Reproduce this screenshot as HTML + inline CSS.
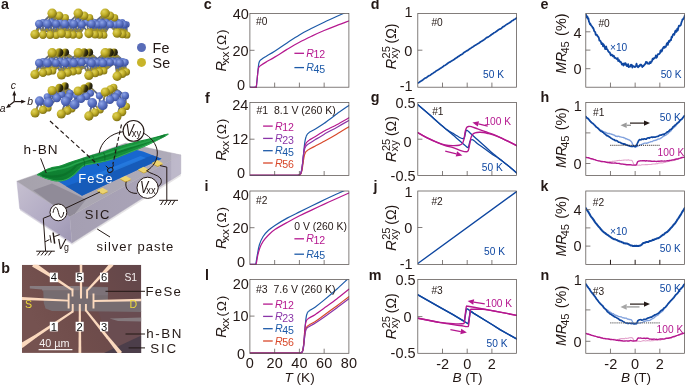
<!DOCTYPE html>
<html><head><meta charset="utf-8"><title>Figure</title>
<style>
html,body{margin:0;padding:0;background:#fff;}
body{width:685px;height:385px;overflow:hidden;font-family:"Liberation Sans",sans-serif;}
svg{display:block;font-family:"Liberation Sans",sans-serif;will-change:transform;}
</style></head><body>
<svg width="685" height="385" viewBox="0 0 685 385">
<rect width="685" height="385" fill="#ffffff"/>
<defs>
<radialGradient id="gSe" cx="0.36" cy="0.32" r="0.75"><stop offset="0" stop-color="#dfd25c"/><stop offset="0.45" stop-color="#c3b12a"/><stop offset="1" stop-color="#76680f"/></radialGradient>
<linearGradient id="gSeD" x1="0" y1="0.2" x2="1" y2="0.5"><stop offset="0" stop-color="#d2be2c"/><stop offset="0.4" stop-color="#a8981e"/><stop offset="0.68" stop-color="#3a3410"/><stop offset="1" stop-color="#14120a"/></linearGradient>
<radialGradient id="gFe" cx="0.36" cy="0.32" r="0.75"><stop offset="0" stop-color="#90a6e6"/><stop offset="0.45" stop-color="#5f77c8"/><stop offset="1" stop-color="#364a96"/></radialGradient>
<linearGradient id="gTop" x1="0" y1="0" x2="1" y2="0"><stop offset="0" stop-color="#a6a2ac"/><stop offset="1" stop-color="#b0acba"/></linearGradient>
<linearGradient id="gFront" x1="0" y1="0" x2="1" y2="0"><stop offset="0" stop-color="#a59fb2"/><stop offset="0.8" stop-color="#aaa4b8"/><stop offset="1" stop-color="#b6b1c4"/></linearGradient>
<linearGradient id="gLeft" x1="0" y1="0" x2="1" y2="1"><stop offset="0" stop-color="#c6c0d0"/><stop offset="0.55" stop-color="#b2abc4"/><stop offset="1" stop-color="#9d96b2"/></linearGradient>
<linearGradient id="gGreen" x1="0" y1="0" x2="0" y2="1"><stop offset="0" stop-color="#1c9a40"/><stop offset="0.5" stop-color="#148c38"/><stop offset="1" stop-color="#0c7a2e"/></linearGradient>
</defs>
<path d="M39.1,23.9L37.0,29.2M39.1,23.9L41.0,29.3M47.4,23.9L49.8,18.6M47.4,23.9L53.3,19.8M47.4,23.9L45.2,29.3M47.4,23.9L48.7,29.4M47.4,23.9L51.8,29.6M56.2,23.9L54.2,18.6M56.2,23.9L57.7,19.8M56.2,23.9L60.7,20.8M56.2,23.9L53.1,29.4M56.2,23.9L56.2,29.6M56.2,23.9L58.9,28.7M65.1,23.9L62.1,19.8M65.1,23.9L65.1,20.8M65.1,23.9L60.6,29.6M65.1,23.9L63.3,28.7M65.1,23.9L66.4,29.2M65.1,23.9L69.0,29.4M73.9,23.9L69.6,20.8M73.9,23.9L76.1,18.6M73.9,23.9L79.1,19.8M73.9,23.9L70.8,29.2M73.9,23.9L73.4,29.4M73.9,23.9L76.5,29.6M81.8,24.5L80.1,18.9M81.8,24.5L83.1,20.1M81.8,24.5L85.7,21.1M81.8,24.5L77.4,29.7M81.8,24.5L80.5,29.9M81.8,24.5L85.4,29.0M91.6,23.9L87.9,19.8M91.6,23.9L90.6,20.8M91.6,23.9L90.2,28.7M91.6,23.9L93.3,29.2M91.6,23.9L95.5,29.4M97.7,24.5L93.6,21.1M97.7,24.5L101.4,18.9M97.7,24.5L103.9,20.1M97.7,24.5L93.3,29.0M97.7,24.5L96.4,29.5M97.7,24.5L98.6,29.7M97.7,24.5L100.8,29.8M103.0,23.9L96.3,20.8M103.0,23.9L104.1,18.6M103.0,23.9L106.6,19.8M103.0,23.9L108.8,20.8M103.0,23.9L99.1,29.2M103.0,23.9L101.3,29.4M103.0,23.9L103.5,29.5M110.1,24.5L107.6,18.9M110.1,24.5L110.1,20.1M110.1,24.5L112.3,21.1M110.1,24.5L104.8,29.7M110.1,24.5L107.0,29.8M110.1,24.5L113.6,28.8M115.4,24.5L110.3,18.9M115.4,24.5L112.8,20.1M115.4,24.5L115.0,21.1M115.4,24.5L116.3,28.8M115.4,24.5L118.9,29.4M119.8,23.9L115.0,19.8M119.8,23.9L117.2,20.8M119.8,23.9L118.5,28.5M119.8,23.9L121.1,29.1M119.8,23.9L123.4,29.4M124.2,24.5L119.4,21.1M124.2,24.5L120.7,28.8M124.2,24.5L123.4,29.4M124.2,24.5L125.6,29.7M126.5,24.5L120.5,21.1M126.5,24.5L121.9,28.8M126.5,24.5L124.5,29.4M126.5,24.5L126.7,29.7M43.0,22.3L47.6,17.8M43.0,22.3L39.0,28.4M43.0,22.3L43.0,28.5M43.0,22.3L46.5,28.6M51.8,22.3L52.0,17.8M51.8,22.3L55.5,19.0M51.8,22.3L47.4,28.5M51.8,22.3L50.9,28.6M51.8,22.3L54.0,28.8M51.8,22.3L56.7,27.9M60.6,22.3L56.4,17.8M60.6,22.3L59.9,19.0M60.6,22.3L58.4,28.8M60.6,22.3L61.1,27.9M60.6,22.3L64.2,28.4M69.5,22.3L64.3,19.0M69.5,22.3L73.9,17.8M69.5,22.3L65.5,27.9M69.5,22.3L68.6,28.4M69.5,22.3L71.2,28.6M78.0,22.3L78.1,17.8M78.0,22.3L81.1,19.0M78.0,22.3L75.5,28.6M78.0,22.3L78.6,28.8M86.8,22.3L82.5,17.8M86.8,22.3L85.6,19.0M86.8,22.3L83.0,28.8M86.8,22.3L87.8,27.9M86.8,22.3L90.9,28.4M94.6,22.3L89.4,19.0M94.6,22.3L99.9,17.8M94.6,22.3L91.7,27.9M94.6,22.3L94.8,28.4M94.6,22.3L97.0,28.6M100.4,22.3L102.8,17.8M100.4,22.3L105.2,19.0M100.4,22.3L97.7,28.4M100.4,22.3L99.9,28.6M100.4,22.3L102.2,28.7M106.6,22.3L105.9,17.8M106.6,22.3L108.3,19.0M106.6,22.3L103.0,28.6M106.6,22.3L105.2,28.7M106.6,22.3L111.9,27.7M112.8,22.3L109.0,17.8M112.8,22.3L111.4,19.0M112.8,22.3L115.0,27.7M112.8,22.3L117.6,28.3M117.5,22.3L111.3,17.8M117.5,22.3L113.8,19.0M117.5,22.3L117.3,27.7M117.5,22.3L120.0,28.3M122.1,22.3L116.1,19.0M122.1,22.3L119.6,27.7M122.1,22.3L122.3,28.3M122.1,22.3L124.5,28.6M39.1,63.0L37.0,68.7M39.1,63.0L41.0,67.9M39.1,63.0L43.7,67.3M47.4,63.0L49.8,57.8M47.4,63.0L45.2,67.9M47.4,63.0L47.8,67.3M47.4,63.0L50.0,66.9M56.2,63.0L54.2,57.8M56.2,63.0L57.7,57.8M56.2,63.0L60.7,57.7M56.2,63.0L52.2,67.3M56.2,63.0L54.5,66.9M56.2,63.0L58.9,69.0M56.2,63.0L62.0,67.9M65.1,63.0L62.1,57.8M65.1,63.0L65.1,57.7M65.1,63.0L58.9,66.9M65.1,63.0L63.3,69.0M65.1,63.0L66.4,67.9M65.1,63.0L69.0,67.4M65.1,63.0L71.7,66.9M73.9,63.0L69.6,57.7M73.9,63.0L76.1,57.8M73.9,63.0L79.0,57.8M73.9,63.0L70.8,67.9M73.9,63.0L73.4,67.4M73.9,63.0L76.1,66.9M81.8,62.4L80.1,57.5M81.8,62.4L83.0,57.5M81.8,62.4L85.6,57.4M81.8,62.4L77.4,67.1M81.8,62.4L80.1,66.6M81.8,62.4L85.4,68.9M91.6,63.0L87.8,57.8M91.6,63.0L90.4,57.7M91.6,63.0L84.9,66.9M91.6,63.0L90.2,69.2M91.6,63.0L93.3,68.1M91.6,63.0L95.5,67.5M91.6,63.0L97.7,67.0M97.7,62.4L93.5,57.4M97.7,62.4L101.4,57.5M97.7,62.4L103.7,57.5M97.7,62.4L96.4,67.8M97.7,62.4L98.6,67.2M97.7,62.4L100.8,66.7M103.0,63.0L104.1,57.8M103.0,63.0L106.3,57.8M103.0,63.0L108.5,57.7M103.0,63.0L99.1,68.1M103.0,63.0L101.3,67.5M103.0,63.0L103.5,67.0M110.1,62.4L107.6,57.5M110.1,62.4L109.8,57.5M110.1,62.4L112.0,57.4M110.1,62.4L104.8,67.2M110.1,62.4L107.0,66.7M115.4,62.4L110.3,57.5M115.4,62.4L112.5,57.5M115.4,62.4L114.7,57.4M115.4,62.4L109.7,66.7M115.4,62.4L116.3,69.3M115.4,62.4L118.9,68.1M115.4,62.4L120.9,67.2M119.8,63.0L114.7,57.8M119.8,63.0L116.9,57.7M119.8,63.0L118.5,69.6M119.8,63.0L121.1,68.4M119.8,63.0L123.1,67.5M125.1,62.4L119.6,57.4M125.1,62.4L123.8,68.1M125.1,62.4L125.7,67.2M43.0,61.2L47.6,56.9M43.0,61.2L39.0,67.8M43.0,61.2L43.0,67.0M43.0,61.2L45.6,66.4M43.0,61.2L47.8,66.0M51.8,61.2L52.0,56.9M51.8,61.2L55.5,56.9M51.8,61.2L47.4,67.0M51.8,61.2L50.0,66.4M51.8,61.2L52.2,66.0M60.6,61.2L56.4,56.9M60.6,61.2L59.9,56.9M60.6,61.2L62.9,56.8M60.6,61.2L56.7,66.0M60.6,61.2L61.1,68.1M60.6,61.2L64.2,67.0M69.5,61.2L64.3,56.9M69.5,61.2L67.3,56.8M69.5,61.2L73.9,56.9M69.5,61.2L68.6,67.0M69.5,61.2L71.2,66.5M69.5,61.2L73.9,66.0M78.0,61.2L71.6,56.8M78.0,61.2L78.1,56.9M78.0,61.2L81.0,56.9M78.0,61.2L83.6,56.8M78.0,61.2L75.5,66.5M78.0,61.2L78.1,66.0M86.8,61.2L82.5,56.9M86.8,61.2L85.4,56.9M86.8,61.2L88.0,56.8M86.8,61.2L82.5,66.0M86.8,61.2L87.8,68.3M86.8,61.2L90.9,67.2M94.6,61.2L89.3,56.9M94.6,61.2L91.9,56.8M94.6,61.2L99.9,56.9M94.6,61.2L91.7,68.3M94.6,61.2L94.8,67.2M94.6,61.2L97.0,66.6M94.6,61.2L99.2,66.1M100.4,61.2L94.8,56.8M100.4,61.2L102.8,56.9M100.4,61.2L105.0,56.9M100.4,61.2L97.7,67.2M100.4,61.2L99.9,66.6M100.4,61.2L102.2,66.1M106.6,61.2L105.9,56.9M106.6,61.2L108.1,56.9M106.6,61.2L110.3,56.8M106.6,61.2L103.0,66.6M106.6,61.2L105.2,66.1M112.8,61.2L109.0,56.9M112.8,61.2L111.2,56.9M112.8,61.2L113.4,56.8M112.8,61.2L108.3,66.1M117.5,61.2L111.3,56.9M117.5,61.2L113.6,56.9M117.5,61.2L115.8,56.8M117.5,61.2L117.3,68.7M117.5,61.2L120.0,67.5M117.5,61.2L121.9,66.6M122.5,61.2L118.2,56.8M122.5,61.2L122.5,67.5M122.5,61.2L124.4,66.6M39.6,100.9L37.4,106.9M39.6,100.9L41.2,105.5M39.6,100.9L43.8,104.5M48.6,102.6L50.3,96.5M48.6,102.6L45.7,106.3M65.7,101.3L62.5,94.6M65.7,101.3L65.4,93.6M65.7,101.3L63.5,107.6M65.7,101.3L66.6,106.1M65.7,101.3L68.8,105.1M74.6,104.5L76.3,97.8M74.6,104.5L71.0,107.7M92.2,102.9L90.6,109.4M92.2,102.9L93.6,107.7M92.2,102.9L96.2,106.4M102.7,105.3L104.0,98.7M102.7,105.3L98.9,108.9M121.1,102.9L119.0,109.7M121.1,102.9L121.7,107.5M56.9,98.1L54.5,94.2M56.9,98.1L58.1,93.0M56.9,98.1L60.9,92.0M56.9,98.1L52.5,103.0M69.0,96.8L64.1,92.4M69.0,96.8L67.0,91.4M69.0,96.8L73.5,93.9M69.0,96.8L68.2,103.8M69.0,96.8L70.4,102.8M81.0,98.9L79.5,95.0M81.0,98.9L82.6,93.6M81.0,98.9L84.9,92.4M81.0,98.9L76.5,103.8M86.6,96.5L82.3,93.8M86.6,96.5L85.4,92.4M86.6,96.5L87.8,91.2M109.9,99.7L107.6,95.9M109.9,99.7L110.1,94.5M109.9,99.7L111.8,93.5M109.9,99.7L105.0,104.8M115.5,97.3L110.4,94.7M115.5,97.3L112.9,93.3M115.5,97.3L114.6,92.3M115.5,97.3L120.9,101.8M125.2,95.7L119.4,91.5M125.2,95.7L125.7,101.0M47.3,96.8L49.7,93.6M47.3,96.8L53.3,92.4M47.3,96.8L45.1,103.4M47.3,96.8L47.6,102.4M61.7,94.8L60.5,91.4M61.7,94.8L63.4,90.4M70.1,92.9L67.5,89.4M90.6,93.2L89.8,89.6M99.5,95.8L94.2,90.9M99.5,95.8L104.9,92.6M99.5,95.8L99.8,102.8M76.2,95.5L70.6,90.7M76.2,95.5L80.2,91.9M76.2,95.5L74.1,102.2M117.9,93.6L115.8,90.5M117.9,93.6L122.1,100.0M53.7,94.2L56.5,91.1M53.7,94.2L59.3,90.1M53.7,94.2L50.9,101.1M37.0,29.2L35.0,34.5M41.0,29.3L43.0,34.8M49.8,18.6L52.2,13.3M53.3,19.8L59.2,15.7M45.2,29.3L43.0,34.8M48.7,29.4L50.0,35.0M51.8,29.6L56.2,35.3M54.2,18.6L52.2,13.3M57.7,19.8L59.2,15.7M60.7,20.8L65.2,17.7M53.1,29.4L50.0,35.0M56.2,29.6L56.2,35.3M58.9,28.7L61.5,33.6M62.1,19.8L59.2,15.7M65.1,20.8L65.2,17.7M60.6,29.6L56.2,35.3M63.3,28.7L61.5,33.6M66.4,29.2L67.7,34.6M69.0,29.4L73.0,35.0M69.6,20.8L65.2,17.7M76.1,18.6L78.3,13.3M79.1,19.8L84.3,15.7M70.8,29.2L67.7,34.6M73.4,29.4L73.0,35.0M76.5,29.6L79.2,35.3M80.1,18.9L78.3,13.3M83.1,20.1L84.3,15.7M85.7,21.1L89.5,17.7M77.4,29.7L73.0,35.0M80.5,29.9L79.2,35.3M85.4,29.0L88.9,33.6M87.9,19.8L84.3,15.7M90.6,20.8L89.5,17.7M90.2,28.7L88.9,33.6M93.3,29.2L95.1,34.6M95.5,29.4L99.5,35.0M93.6,21.1L89.5,17.7M101.4,18.9L105.2,13.3M103.9,20.1L110.1,15.7M93.3,29.0L88.9,33.6M96.4,29.5L95.1,34.6M98.6,29.7L99.5,35.0M100.8,29.8L103.9,35.2M96.3,20.8L89.5,17.7M104.1,18.6L105.2,13.3M106.6,19.8L110.1,15.7M108.8,20.8L114.5,17.7M99.1,29.2L95.1,34.6M101.3,29.4L99.5,35.0M103.5,29.5L103.9,35.2M107.6,18.9L105.2,13.3M110.1,20.1L110.1,15.7M112.3,21.1L114.5,17.7M104.8,29.7L99.5,35.0M107.0,29.8L103.9,35.2M113.6,28.8L117.2,33.2M110.3,18.9L105.2,13.3M112.8,20.1L110.1,15.7M115.0,21.1L114.5,17.7M116.3,28.8L117.2,33.2M118.9,29.4L122.5,34.3M115.0,19.8L110.1,15.7M117.2,20.8L114.5,17.7M118.5,28.5L117.2,33.2M121.1,29.1L122.5,34.3M123.4,29.4L126.9,35.0M119.4,21.1L114.5,17.7M120.7,28.8L117.2,33.2M123.4,29.4L122.5,34.3M125.6,29.7L126.9,35.0M120.5,21.1L114.5,17.7M121.9,28.8L117.2,33.2M124.5,29.4L122.5,34.3M126.7,29.7L126.9,35.0M47.6,17.8L52.2,13.3M39.0,28.4L35.0,34.5M43.0,28.5L43.0,34.8M46.5,28.6L50.0,35.0M52.0,17.8L52.2,13.3M55.5,19.0L59.2,15.7M47.4,28.5L43.0,34.8M50.9,28.6L50.0,35.0M54.0,28.8L56.2,35.3M56.7,27.9L61.5,33.6M56.4,17.8L52.2,13.3M59.9,19.0L59.2,15.7M58.4,28.8L56.2,35.3M61.1,27.9L61.5,33.6M64.2,28.4L67.7,34.6M64.3,19.0L59.2,15.7M73.9,17.8L78.3,13.3M65.5,27.9L61.5,33.6M68.6,28.4L67.7,34.6M71.2,28.6L73.0,35.0M78.1,17.8L78.3,13.3M81.1,19.0L84.3,15.7M75.5,28.6L73.0,35.0M78.6,28.8L79.2,35.3M82.5,17.8L78.3,13.3M85.6,19.0L84.3,15.7M83.0,28.8L79.2,35.3M87.8,27.9L88.9,33.6M90.9,28.4L95.1,34.6M89.4,19.0L84.3,15.7M99.9,17.8L105.2,13.3M91.7,27.9L88.9,33.6M94.8,28.4L95.1,34.6M97.0,28.6L99.5,35.0M102.8,17.8L105.2,13.3M105.2,19.0L110.1,15.7M97.7,28.4L95.1,34.6M99.9,28.6L99.5,35.0M102.2,28.7L103.9,35.2M105.9,17.8L105.2,13.3M108.3,19.0L110.1,15.7M103.0,28.6L99.5,35.0M105.2,28.7L103.9,35.2M111.9,27.7L117.2,33.2M109.0,17.8L105.2,13.3M111.4,19.0L110.1,15.7M115.0,27.7L117.2,33.2M117.6,28.3L122.5,34.3M111.3,17.8L105.2,13.3M113.8,19.0L110.1,15.7M117.3,27.7L117.2,33.2M120.0,28.3L122.5,34.3M116.1,19.0L110.1,15.7M119.6,27.7L117.2,33.2M122.3,28.3L122.5,34.3M124.5,28.6L126.9,35.0M37.0,68.7L35.0,74.5M41.0,67.9L43.0,72.9M43.7,67.3L48.3,71.6M49.8,57.8L52.2,52.7M45.2,67.9L43.0,72.9M47.8,67.3L48.3,71.6M50.0,66.9L52.7,70.9M54.2,57.8L52.2,52.7M57.7,57.8L59.2,52.5M60.7,57.7L65.2,52.4M52.2,67.3L48.3,71.6M54.5,66.9L52.7,70.9M58.9,69.0L61.5,75.0M62.0,67.9L67.7,72.9M62.1,57.8L59.2,52.5M65.1,57.7L65.2,52.4M58.9,66.9L52.7,70.9M63.3,69.0L61.5,75.0M66.4,67.9L67.7,72.9M69.0,67.4L73.0,71.8M71.7,66.9L78.3,70.9M69.6,57.7L65.2,52.4M76.1,57.8L78.3,52.7M79.0,57.8L84.1,52.5M70.8,67.9L67.7,72.9M73.4,67.4L73.0,71.8M76.1,66.9L78.3,70.9M80.1,57.5L78.3,52.7M83.0,57.5L84.1,52.5M85.6,57.4L89.3,52.4M77.4,67.1L73.0,71.8M80.1,66.6L78.3,70.9M85.4,68.9L88.9,75.3M87.8,57.8L84.1,52.5M90.4,57.7L89.3,52.4M84.9,66.9L78.3,70.9M90.2,69.2L88.9,75.3M93.3,68.1L95.1,73.2M95.5,67.5L99.5,72.0M97.7,67.0L103.9,71.1M93.5,57.4L89.3,52.4M101.4,57.5L105.2,52.7M103.7,57.5L109.6,52.5M96.4,67.8L95.1,73.2M98.6,67.2L99.5,72.0M100.8,66.7L103.9,71.1M104.1,57.8L105.2,52.7M106.3,57.8L109.6,52.5M108.5,57.7L114.0,52.4M99.1,68.1L95.1,73.2M101.3,67.5L99.5,72.0M103.5,67.0L103.9,71.1M107.6,57.5L105.2,52.7M109.8,57.5L109.6,52.5M112.0,57.4L114.0,52.4M104.8,67.2L99.5,72.0M107.0,66.7L103.9,71.1M110.3,57.5L105.2,52.7M112.5,57.5L109.6,52.5M114.7,57.4L114.0,52.4M109.7,66.7L103.9,71.1M116.3,69.3L117.2,76.2M118.9,68.1L122.5,73.7M120.9,67.2L126.4,72.0M114.7,57.8L109.6,52.5M116.9,57.7L114.0,52.4M118.5,69.6L117.2,76.2M121.1,68.4L122.5,73.7M123.1,67.5L126.4,72.0M119.6,57.4L114.0,52.4M123.8,68.1L122.5,73.7M125.7,67.2L126.4,72.0M47.6,56.9L52.2,52.7M39.0,67.8L35.0,74.5M43.0,67.0L43.0,72.9M45.6,66.4L48.3,71.6M47.8,66.0L52.7,70.9M52.0,56.9L52.2,52.7M55.5,56.9L59.2,52.5M47.4,67.0L43.0,72.9M50.0,66.4L48.3,71.6M52.2,66.0L52.7,70.9M56.4,56.9L52.2,52.7M59.9,56.9L59.2,52.5M62.9,56.8L65.2,52.4M56.7,66.0L52.7,70.9M61.1,68.1L61.5,75.0M64.2,67.0L67.7,72.9M64.3,56.9L59.2,52.5M67.3,56.8L65.2,52.4M73.9,56.9L78.3,52.7M68.6,67.0L67.7,72.9M71.2,66.5L73.0,71.8M73.9,66.0L78.3,70.9M71.6,56.8L65.2,52.4M78.1,56.9L78.3,52.7M81.0,56.9L84.1,52.5M83.6,56.8L89.3,52.4M75.5,66.5L73.0,71.8M78.1,66.0L78.3,70.9M82.5,56.9L78.3,52.7M85.4,56.9L84.1,52.5M88.0,56.8L89.3,52.4M82.5,66.0L78.3,70.9M87.8,68.3L88.9,75.3M90.9,67.2L95.1,73.2M89.3,56.9L84.1,52.5M91.9,56.8L89.3,52.4M99.9,56.9L105.2,52.7M91.7,68.3L88.9,75.3M94.8,67.2L95.1,73.2M97.0,66.6L99.5,72.0M99.2,66.1L103.9,71.1M94.8,56.8L89.3,52.4M102.8,56.9L105.2,52.7M105.0,56.9L109.6,52.5M97.7,67.2L95.1,73.2M99.9,66.6L99.5,72.0M102.2,66.1L103.9,71.1M105.9,56.9L105.2,52.7M108.1,56.9L109.6,52.5M110.3,56.8L114.0,52.4M103.0,66.6L99.5,72.0M105.2,66.1L103.9,71.1M109.0,56.9L105.2,52.7M111.2,56.9L109.6,52.5M113.4,56.8L114.0,52.4M108.3,66.1L103.9,71.1M111.3,56.9L105.2,52.7M113.6,56.9L109.6,52.5M115.8,56.8L114.0,52.4M117.3,68.7L117.2,76.2M120.0,67.5L122.5,73.7M121.9,66.6L126.4,72.0M118.2,56.8L114.0,52.4M122.5,67.5L122.5,73.7M124.4,66.6L126.4,72.0M37.4,106.9L35.2,112.9M41.2,105.5L42.9,110.1M43.8,104.5L48.0,108.0M50.3,96.5L52.1,90.4M45.7,106.3L42.9,110.1M62.5,94.6L59.3,88.0M65.4,93.6L65.0,85.9M63.5,107.6L61.3,113.9M66.6,106.1L67.4,110.9M68.8,105.1L71.9,108.8M76.3,97.8L78.1,91.1M71.0,107.7L67.4,110.9M90.6,109.4L88.9,116.0M93.6,107.7L95.0,112.5M96.2,106.4L100.1,109.9M104.0,98.7L105.3,92.1M98.9,108.9L95.0,112.5M119.0,109.7L116.9,116.6M121.7,107.5L122.2,112.1M54.5,94.2L52.1,90.4M58.1,93.0L59.3,88.0M60.9,92.0L65.0,85.9M52.5,103.0L48.0,108.0M64.1,92.4L59.3,88.0M67.0,91.4L65.0,85.9M73.5,93.9L78.1,91.1M68.2,103.8L67.4,110.9M70.4,102.8L71.9,108.8M79.5,95.0L78.1,91.1M82.6,93.6L84.2,88.4M84.9,92.4L88.9,85.9M76.5,103.8L71.9,108.8M82.3,93.8L78.1,91.1M85.4,92.4L84.2,88.4M87.8,91.2L88.9,85.9M107.6,95.9L105.3,92.1M110.1,94.5L110.4,89.4M111.8,93.5L113.6,87.4M105.0,104.8L100.1,109.9M110.4,94.7L105.3,92.1M112.9,93.3L110.4,89.4M114.6,92.3L113.6,87.4M120.9,101.8L126.3,106.4M119.4,91.5L113.6,87.4M125.7,101.0L126.3,106.4M49.7,93.6L52.1,90.4M53.3,92.4L59.3,88.0M45.1,103.4L42.9,110.1M47.6,102.4L48.0,108.0M60.5,91.4L59.3,88.0M63.4,90.4L65.0,85.9M67.5,89.4L65.0,85.9M89.8,89.6L88.9,85.9M94.2,90.9L88.9,85.9M104.9,92.6L110.4,89.4M99.8,102.8L100.1,109.9M70.6,90.7L65.0,85.9M80.2,91.9L84.2,88.4M74.1,102.2L71.9,108.8M115.8,90.5L113.6,87.4M122.1,100.0L126.3,106.4M56.5,91.1L59.3,88.0M59.3,90.1L65.0,85.9M50.9,101.1L48.0,108.0" stroke="#101016" stroke-width="1.9" fill="none" opacity="0.6"/>
<path d="M39.1,23.9L37.0,29.2M39.1,23.9L41.0,29.3M47.4,23.9L49.8,18.6M47.4,23.9L53.3,19.8M47.4,23.9L45.2,29.3M47.4,23.9L48.7,29.4M47.4,23.9L51.8,29.6M56.2,23.9L54.2,18.6M56.2,23.9L57.7,19.8M56.2,23.9L60.7,20.8M56.2,23.9L53.1,29.4M56.2,23.9L56.2,29.6M56.2,23.9L58.9,28.7M65.1,23.9L62.1,19.8M65.1,23.9L65.1,20.8M65.1,23.9L60.6,29.6M65.1,23.9L63.3,28.7M65.1,23.9L66.4,29.2M65.1,23.9L69.0,29.4M73.9,23.9L69.6,20.8M73.9,23.9L76.1,18.6M73.9,23.9L79.1,19.8M73.9,23.9L70.8,29.2M73.9,23.9L73.4,29.4M73.9,23.9L76.5,29.6M81.8,24.5L80.1,18.9M81.8,24.5L83.1,20.1M81.8,24.5L85.7,21.1M81.8,24.5L77.4,29.7M81.8,24.5L80.5,29.9M81.8,24.5L85.4,29.0M91.6,23.9L87.9,19.8M91.6,23.9L90.6,20.8M91.6,23.9L90.2,28.7M91.6,23.9L93.3,29.2M91.6,23.9L95.5,29.4M97.7,24.5L93.6,21.1M97.7,24.5L101.4,18.9M97.7,24.5L103.9,20.1M97.7,24.5L93.3,29.0M97.7,24.5L96.4,29.5M97.7,24.5L98.6,29.7M97.7,24.5L100.8,29.8M103.0,23.9L96.3,20.8M103.0,23.9L104.1,18.6M103.0,23.9L106.6,19.8M103.0,23.9L108.8,20.8M103.0,23.9L99.1,29.2M103.0,23.9L101.3,29.4M103.0,23.9L103.5,29.5M110.1,24.5L107.6,18.9M110.1,24.5L110.1,20.1M110.1,24.5L112.3,21.1M110.1,24.5L104.8,29.7M110.1,24.5L107.0,29.8M110.1,24.5L113.6,28.8M115.4,24.5L110.3,18.9M115.4,24.5L112.8,20.1M115.4,24.5L115.0,21.1M115.4,24.5L116.3,28.8M115.4,24.5L118.9,29.4M119.8,23.9L115.0,19.8M119.8,23.9L117.2,20.8M119.8,23.9L118.5,28.5M119.8,23.9L121.1,29.1M119.8,23.9L123.4,29.4M124.2,24.5L119.4,21.1M124.2,24.5L120.7,28.8M124.2,24.5L123.4,29.4M124.2,24.5L125.6,29.7M126.5,24.5L120.5,21.1M126.5,24.5L121.9,28.8M126.5,24.5L124.5,29.4M126.5,24.5L126.7,29.7M43.0,22.3L47.6,17.8M43.0,22.3L39.0,28.4M43.0,22.3L43.0,28.5M43.0,22.3L46.5,28.6M51.8,22.3L52.0,17.8M51.8,22.3L55.5,19.0M51.8,22.3L47.4,28.5M51.8,22.3L50.9,28.6M51.8,22.3L54.0,28.8M51.8,22.3L56.7,27.9M60.6,22.3L56.4,17.8M60.6,22.3L59.9,19.0M60.6,22.3L58.4,28.8M60.6,22.3L61.1,27.9M60.6,22.3L64.2,28.4M69.5,22.3L64.3,19.0M69.5,22.3L73.9,17.8M69.5,22.3L65.5,27.9M69.5,22.3L68.6,28.4M69.5,22.3L71.2,28.6M78.0,22.3L78.1,17.8M78.0,22.3L81.1,19.0M78.0,22.3L75.5,28.6M78.0,22.3L78.6,28.8M86.8,22.3L82.5,17.8M86.8,22.3L85.6,19.0M86.8,22.3L83.0,28.8M86.8,22.3L87.8,27.9M86.8,22.3L90.9,28.4M94.6,22.3L89.4,19.0M94.6,22.3L99.9,17.8M94.6,22.3L91.7,27.9M94.6,22.3L94.8,28.4M94.6,22.3L97.0,28.6M100.4,22.3L102.8,17.8M100.4,22.3L105.2,19.0M100.4,22.3L97.7,28.4M100.4,22.3L99.9,28.6M100.4,22.3L102.2,28.7M106.6,22.3L105.9,17.8M106.6,22.3L108.3,19.0M106.6,22.3L103.0,28.6M106.6,22.3L105.2,28.7M106.6,22.3L111.9,27.7M112.8,22.3L109.0,17.8M112.8,22.3L111.4,19.0M112.8,22.3L115.0,27.7M112.8,22.3L117.6,28.3M117.5,22.3L111.3,17.8M117.5,22.3L113.8,19.0M117.5,22.3L117.3,27.7M117.5,22.3L120.0,28.3M122.1,22.3L116.1,19.0M122.1,22.3L119.6,27.7M122.1,22.3L122.3,28.3M122.1,22.3L124.5,28.6M39.1,63.0L37.0,68.7M39.1,63.0L41.0,67.9M39.1,63.0L43.7,67.3M47.4,63.0L49.8,57.8M47.4,63.0L45.2,67.9M47.4,63.0L47.8,67.3M47.4,63.0L50.0,66.9M56.2,63.0L54.2,57.8M56.2,63.0L57.7,57.8M56.2,63.0L60.7,57.7M56.2,63.0L52.2,67.3M56.2,63.0L54.5,66.9M56.2,63.0L58.9,69.0M56.2,63.0L62.0,67.9M65.1,63.0L62.1,57.8M65.1,63.0L65.1,57.7M65.1,63.0L58.9,66.9M65.1,63.0L63.3,69.0M65.1,63.0L66.4,67.9M65.1,63.0L69.0,67.4M65.1,63.0L71.7,66.9M73.9,63.0L69.6,57.7M73.9,63.0L76.1,57.8M73.9,63.0L79.0,57.8M73.9,63.0L70.8,67.9M73.9,63.0L73.4,67.4M73.9,63.0L76.1,66.9M81.8,62.4L80.1,57.5M81.8,62.4L83.0,57.5M81.8,62.4L85.6,57.4M81.8,62.4L77.4,67.1M81.8,62.4L80.1,66.6M81.8,62.4L85.4,68.9M91.6,63.0L87.8,57.8M91.6,63.0L90.4,57.7M91.6,63.0L84.9,66.9M91.6,63.0L90.2,69.2M91.6,63.0L93.3,68.1M91.6,63.0L95.5,67.5M91.6,63.0L97.7,67.0M97.7,62.4L93.5,57.4M97.7,62.4L101.4,57.5M97.7,62.4L103.7,57.5M97.7,62.4L96.4,67.8M97.7,62.4L98.6,67.2M97.7,62.4L100.8,66.7M103.0,63.0L104.1,57.8M103.0,63.0L106.3,57.8M103.0,63.0L108.5,57.7M103.0,63.0L99.1,68.1M103.0,63.0L101.3,67.5M103.0,63.0L103.5,67.0M110.1,62.4L107.6,57.5M110.1,62.4L109.8,57.5M110.1,62.4L112.0,57.4M110.1,62.4L104.8,67.2M110.1,62.4L107.0,66.7M115.4,62.4L110.3,57.5M115.4,62.4L112.5,57.5M115.4,62.4L114.7,57.4M115.4,62.4L109.7,66.7M115.4,62.4L116.3,69.3M115.4,62.4L118.9,68.1M115.4,62.4L120.9,67.2M119.8,63.0L114.7,57.8M119.8,63.0L116.9,57.7M119.8,63.0L118.5,69.6M119.8,63.0L121.1,68.4M119.8,63.0L123.1,67.5M125.1,62.4L119.6,57.4M125.1,62.4L123.8,68.1M125.1,62.4L125.7,67.2M43.0,61.2L47.6,56.9M43.0,61.2L39.0,67.8M43.0,61.2L43.0,67.0M43.0,61.2L45.6,66.4M43.0,61.2L47.8,66.0M51.8,61.2L52.0,56.9M51.8,61.2L55.5,56.9M51.8,61.2L47.4,67.0M51.8,61.2L50.0,66.4M51.8,61.2L52.2,66.0M60.6,61.2L56.4,56.9M60.6,61.2L59.9,56.9M60.6,61.2L62.9,56.8M60.6,61.2L56.7,66.0M60.6,61.2L61.1,68.1M60.6,61.2L64.2,67.0M69.5,61.2L64.3,56.9M69.5,61.2L67.3,56.8M69.5,61.2L73.9,56.9M69.5,61.2L68.6,67.0M69.5,61.2L71.2,66.5M69.5,61.2L73.9,66.0M78.0,61.2L71.6,56.8M78.0,61.2L78.1,56.9M78.0,61.2L81.0,56.9M78.0,61.2L83.6,56.8M78.0,61.2L75.5,66.5M78.0,61.2L78.1,66.0M86.8,61.2L82.5,56.9M86.8,61.2L85.4,56.9M86.8,61.2L88.0,56.8M86.8,61.2L82.5,66.0M86.8,61.2L87.8,68.3M86.8,61.2L90.9,67.2M94.6,61.2L89.3,56.9M94.6,61.2L91.9,56.8M94.6,61.2L99.9,56.9M94.6,61.2L91.7,68.3M94.6,61.2L94.8,67.2M94.6,61.2L97.0,66.6M94.6,61.2L99.2,66.1M100.4,61.2L94.8,56.8M100.4,61.2L102.8,56.9M100.4,61.2L105.0,56.9M100.4,61.2L97.7,67.2M100.4,61.2L99.9,66.6M100.4,61.2L102.2,66.1M106.6,61.2L105.9,56.9M106.6,61.2L108.1,56.9M106.6,61.2L110.3,56.8M106.6,61.2L103.0,66.6M106.6,61.2L105.2,66.1M112.8,61.2L109.0,56.9M112.8,61.2L111.2,56.9M112.8,61.2L113.4,56.8M112.8,61.2L108.3,66.1M117.5,61.2L111.3,56.9M117.5,61.2L113.6,56.9M117.5,61.2L115.8,56.8M117.5,61.2L117.3,68.7M117.5,61.2L120.0,67.5M117.5,61.2L121.9,66.6M122.5,61.2L118.2,56.8M122.5,61.2L122.5,67.5M122.5,61.2L124.4,66.6M39.6,100.9L37.4,106.9M39.6,100.9L41.2,105.5M39.6,100.9L43.8,104.5M48.6,102.6L50.3,96.5M48.6,102.6L45.7,106.3M65.7,101.3L62.5,94.6M65.7,101.3L65.4,93.6M65.7,101.3L63.5,107.6M65.7,101.3L66.6,106.1M65.7,101.3L68.8,105.1M74.6,104.5L76.3,97.8M74.6,104.5L71.0,107.7M92.2,102.9L90.6,109.4M92.2,102.9L93.6,107.7M92.2,102.9L96.2,106.4M102.7,105.3L104.0,98.7M102.7,105.3L98.9,108.9M121.1,102.9L119.0,109.7M121.1,102.9L121.7,107.5M56.9,98.1L54.5,94.2M56.9,98.1L58.1,93.0M56.9,98.1L60.9,92.0M56.9,98.1L52.5,103.0M69.0,96.8L64.1,92.4M69.0,96.8L67.0,91.4M69.0,96.8L73.5,93.9M69.0,96.8L68.2,103.8M69.0,96.8L70.4,102.8M81.0,98.9L79.5,95.0M81.0,98.9L82.6,93.6M81.0,98.9L84.9,92.4M81.0,98.9L76.5,103.8M86.6,96.5L82.3,93.8M86.6,96.5L85.4,92.4M86.6,96.5L87.8,91.2M109.9,99.7L107.6,95.9M109.9,99.7L110.1,94.5M109.9,99.7L111.8,93.5M109.9,99.7L105.0,104.8M115.5,97.3L110.4,94.7M115.5,97.3L112.9,93.3M115.5,97.3L114.6,92.3M115.5,97.3L120.9,101.8M125.2,95.7L119.4,91.5M125.2,95.7L125.7,101.0M47.3,96.8L49.7,93.6M47.3,96.8L53.3,92.4M47.3,96.8L45.1,103.4M47.3,96.8L47.6,102.4M61.7,94.8L60.5,91.4M61.7,94.8L63.4,90.4M70.1,92.9L67.5,89.4M90.6,93.2L89.8,89.6M99.5,95.8L94.2,90.9M99.5,95.8L104.9,92.6M99.5,95.8L99.8,102.8M76.2,95.5L70.6,90.7M76.2,95.5L80.2,91.9M76.2,95.5L74.1,102.2M117.9,93.6L115.8,90.5M117.9,93.6L122.1,100.0M53.7,94.2L56.5,91.1M53.7,94.2L59.3,90.1M53.7,94.2L50.9,101.1" stroke="#3f5fb4" stroke-width="0.9" fill="none"/>
<path d="M37.0,29.2L35.0,34.5M41.0,29.3L43.0,34.8M49.8,18.6L52.2,13.3M53.3,19.8L59.2,15.7M45.2,29.3L43.0,34.8M48.7,29.4L50.0,35.0M51.8,29.6L56.2,35.3M54.2,18.6L52.2,13.3M57.7,19.8L59.2,15.7M60.7,20.8L65.2,17.7M53.1,29.4L50.0,35.0M56.2,29.6L56.2,35.3M58.9,28.7L61.5,33.6M62.1,19.8L59.2,15.7M65.1,20.8L65.2,17.7M60.6,29.6L56.2,35.3M63.3,28.7L61.5,33.6M66.4,29.2L67.7,34.6M69.0,29.4L73.0,35.0M69.6,20.8L65.2,17.7M76.1,18.6L78.3,13.3M79.1,19.8L84.3,15.7M70.8,29.2L67.7,34.6M73.4,29.4L73.0,35.0M76.5,29.6L79.2,35.3M80.1,18.9L78.3,13.3M83.1,20.1L84.3,15.7M85.7,21.1L89.5,17.7M77.4,29.7L73.0,35.0M80.5,29.9L79.2,35.3M85.4,29.0L88.9,33.6M87.9,19.8L84.3,15.7M90.6,20.8L89.5,17.7M90.2,28.7L88.9,33.6M93.3,29.2L95.1,34.6M95.5,29.4L99.5,35.0M93.6,21.1L89.5,17.7M101.4,18.9L105.2,13.3M103.9,20.1L110.1,15.7M93.3,29.0L88.9,33.6M96.4,29.5L95.1,34.6M98.6,29.7L99.5,35.0M100.8,29.8L103.9,35.2M96.3,20.8L89.5,17.7M104.1,18.6L105.2,13.3M106.6,19.8L110.1,15.7M108.8,20.8L114.5,17.7M99.1,29.2L95.1,34.6M101.3,29.4L99.5,35.0M103.5,29.5L103.9,35.2M107.6,18.9L105.2,13.3M110.1,20.1L110.1,15.7M112.3,21.1L114.5,17.7M104.8,29.7L99.5,35.0M107.0,29.8L103.9,35.2M113.6,28.8L117.2,33.2M110.3,18.9L105.2,13.3M112.8,20.1L110.1,15.7M115.0,21.1L114.5,17.7M116.3,28.8L117.2,33.2M118.9,29.4L122.5,34.3M115.0,19.8L110.1,15.7M117.2,20.8L114.5,17.7M118.5,28.5L117.2,33.2M121.1,29.1L122.5,34.3M123.4,29.4L126.9,35.0M119.4,21.1L114.5,17.7M120.7,28.8L117.2,33.2M123.4,29.4L122.5,34.3M125.6,29.7L126.9,35.0M120.5,21.1L114.5,17.7M121.9,28.8L117.2,33.2M124.5,29.4L122.5,34.3M126.7,29.7L126.9,35.0M47.6,17.8L52.2,13.3M39.0,28.4L35.0,34.5M43.0,28.5L43.0,34.8M46.5,28.6L50.0,35.0M52.0,17.8L52.2,13.3M55.5,19.0L59.2,15.7M47.4,28.5L43.0,34.8M50.9,28.6L50.0,35.0M54.0,28.8L56.2,35.3M56.7,27.9L61.5,33.6M56.4,17.8L52.2,13.3M59.9,19.0L59.2,15.7M58.4,28.8L56.2,35.3M61.1,27.9L61.5,33.6M64.2,28.4L67.7,34.6M64.3,19.0L59.2,15.7M73.9,17.8L78.3,13.3M65.5,27.9L61.5,33.6M68.6,28.4L67.7,34.6M71.2,28.6L73.0,35.0M78.1,17.8L78.3,13.3M81.1,19.0L84.3,15.7M75.5,28.6L73.0,35.0M78.6,28.8L79.2,35.3M82.5,17.8L78.3,13.3M85.6,19.0L84.3,15.7M83.0,28.8L79.2,35.3M87.8,27.9L88.9,33.6M90.9,28.4L95.1,34.6M89.4,19.0L84.3,15.7M99.9,17.8L105.2,13.3M91.7,27.9L88.9,33.6M94.8,28.4L95.1,34.6M97.0,28.6L99.5,35.0M102.8,17.8L105.2,13.3M105.2,19.0L110.1,15.7M97.7,28.4L95.1,34.6M99.9,28.6L99.5,35.0M102.2,28.7L103.9,35.2M105.9,17.8L105.2,13.3M108.3,19.0L110.1,15.7M103.0,28.6L99.5,35.0M105.2,28.7L103.9,35.2M111.9,27.7L117.2,33.2M109.0,17.8L105.2,13.3M111.4,19.0L110.1,15.7M115.0,27.7L117.2,33.2M117.6,28.3L122.5,34.3M111.3,17.8L105.2,13.3M113.8,19.0L110.1,15.7M117.3,27.7L117.2,33.2M120.0,28.3L122.5,34.3M116.1,19.0L110.1,15.7M119.6,27.7L117.2,33.2M122.3,28.3L122.5,34.3M124.5,28.6L126.9,35.0M37.0,68.7L35.0,74.5M41.0,67.9L43.0,72.9M43.7,67.3L48.3,71.6M49.8,57.8L52.2,52.7M45.2,67.9L43.0,72.9M47.8,67.3L48.3,71.6M50.0,66.9L52.7,70.9M54.2,57.8L52.2,52.7M57.7,57.8L59.2,52.5M60.7,57.7L65.2,52.4M52.2,67.3L48.3,71.6M54.5,66.9L52.7,70.9M58.9,69.0L61.5,75.0M62.0,67.9L67.7,72.9M62.1,57.8L59.2,52.5M65.1,57.7L65.2,52.4M58.9,66.9L52.7,70.9M63.3,69.0L61.5,75.0M66.4,67.9L67.7,72.9M69.0,67.4L73.0,71.8M71.7,66.9L78.3,70.9M69.6,57.7L65.2,52.4M76.1,57.8L78.3,52.7M79.0,57.8L84.1,52.5M70.8,67.9L67.7,72.9M73.4,67.4L73.0,71.8M76.1,66.9L78.3,70.9M80.1,57.5L78.3,52.7M83.0,57.5L84.1,52.5M85.6,57.4L89.3,52.4M77.4,67.1L73.0,71.8M80.1,66.6L78.3,70.9M85.4,68.9L88.9,75.3M87.8,57.8L84.1,52.5M90.4,57.7L89.3,52.4M84.9,66.9L78.3,70.9M90.2,69.2L88.9,75.3M93.3,68.1L95.1,73.2M95.5,67.5L99.5,72.0M97.7,67.0L103.9,71.1M93.5,57.4L89.3,52.4M101.4,57.5L105.2,52.7M103.7,57.5L109.6,52.5M96.4,67.8L95.1,73.2M98.6,67.2L99.5,72.0M100.8,66.7L103.9,71.1M104.1,57.8L105.2,52.7M106.3,57.8L109.6,52.5M108.5,57.7L114.0,52.4M99.1,68.1L95.1,73.2M101.3,67.5L99.5,72.0M103.5,67.0L103.9,71.1M107.6,57.5L105.2,52.7M109.8,57.5L109.6,52.5M112.0,57.4L114.0,52.4M104.8,67.2L99.5,72.0M107.0,66.7L103.9,71.1M110.3,57.5L105.2,52.7M112.5,57.5L109.6,52.5M114.7,57.4L114.0,52.4M109.7,66.7L103.9,71.1M116.3,69.3L117.2,76.2M118.9,68.1L122.5,73.7M120.9,67.2L126.4,72.0M114.7,57.8L109.6,52.5M116.9,57.7L114.0,52.4M118.5,69.6L117.2,76.2M121.1,68.4L122.5,73.7M123.1,67.5L126.4,72.0M119.6,57.4L114.0,52.4M123.8,68.1L122.5,73.7M125.7,67.2L126.4,72.0M47.6,56.9L52.2,52.7M39.0,67.8L35.0,74.5M43.0,67.0L43.0,72.9M45.6,66.4L48.3,71.6M47.8,66.0L52.7,70.9M52.0,56.9L52.2,52.7M55.5,56.9L59.2,52.5M47.4,67.0L43.0,72.9M50.0,66.4L48.3,71.6M52.2,66.0L52.7,70.9M56.4,56.9L52.2,52.7M59.9,56.9L59.2,52.5M62.9,56.8L65.2,52.4M56.7,66.0L52.7,70.9M61.1,68.1L61.5,75.0M64.2,67.0L67.7,72.9M64.3,56.9L59.2,52.5M67.3,56.8L65.2,52.4M73.9,56.9L78.3,52.7M68.6,67.0L67.7,72.9M71.2,66.5L73.0,71.8M73.9,66.0L78.3,70.9M71.6,56.8L65.2,52.4M78.1,56.9L78.3,52.7M81.0,56.9L84.1,52.5M83.6,56.8L89.3,52.4M75.5,66.5L73.0,71.8M78.1,66.0L78.3,70.9M82.5,56.9L78.3,52.7M85.4,56.9L84.1,52.5M88.0,56.8L89.3,52.4M82.5,66.0L78.3,70.9M87.8,68.3L88.9,75.3M90.9,67.2L95.1,73.2M89.3,56.9L84.1,52.5M91.9,56.8L89.3,52.4M99.9,56.9L105.2,52.7M91.7,68.3L88.9,75.3M94.8,67.2L95.1,73.2M97.0,66.6L99.5,72.0M99.2,66.1L103.9,71.1M94.8,56.8L89.3,52.4M102.8,56.9L105.2,52.7M105.0,56.9L109.6,52.5M97.7,67.2L95.1,73.2M99.9,66.6L99.5,72.0M102.2,66.1L103.9,71.1M105.9,56.9L105.2,52.7M108.1,56.9L109.6,52.5M110.3,56.8L114.0,52.4M103.0,66.6L99.5,72.0M105.2,66.1L103.9,71.1M109.0,56.9L105.2,52.7M111.2,56.9L109.6,52.5M113.4,56.8L114.0,52.4M108.3,66.1L103.9,71.1M111.3,56.9L105.2,52.7M113.6,56.9L109.6,52.5M115.8,56.8L114.0,52.4M117.3,68.7L117.2,76.2M120.0,67.5L122.5,73.7M121.9,66.6L126.4,72.0M118.2,56.8L114.0,52.4M122.5,67.5L122.5,73.7M124.4,66.6L126.4,72.0M37.4,106.9L35.2,112.9M41.2,105.5L42.9,110.1M43.8,104.5L48.0,108.0M50.3,96.5L52.1,90.4M45.7,106.3L42.9,110.1M62.5,94.6L59.3,88.0M65.4,93.6L65.0,85.9M63.5,107.6L61.3,113.9M66.6,106.1L67.4,110.9M68.8,105.1L71.9,108.8M76.3,97.8L78.1,91.1M71.0,107.7L67.4,110.9M90.6,109.4L88.9,116.0M93.6,107.7L95.0,112.5M96.2,106.4L100.1,109.9M104.0,98.7L105.3,92.1M98.9,108.9L95.0,112.5M119.0,109.7L116.9,116.6M121.7,107.5L122.2,112.1M54.5,94.2L52.1,90.4M58.1,93.0L59.3,88.0M60.9,92.0L65.0,85.9M52.5,103.0L48.0,108.0M64.1,92.4L59.3,88.0M67.0,91.4L65.0,85.9M73.5,93.9L78.1,91.1M68.2,103.8L67.4,110.9M70.4,102.8L71.9,108.8M79.5,95.0L78.1,91.1M82.6,93.6L84.2,88.4M84.9,92.4L88.9,85.9M76.5,103.8L71.9,108.8M82.3,93.8L78.1,91.1M85.4,92.4L84.2,88.4M87.8,91.2L88.9,85.9M107.6,95.9L105.3,92.1M110.1,94.5L110.4,89.4M111.8,93.5L113.6,87.4M105.0,104.8L100.1,109.9M110.4,94.7L105.3,92.1M112.9,93.3L110.4,89.4M114.6,92.3L113.6,87.4M120.9,101.8L126.3,106.4M119.4,91.5L113.6,87.4M125.7,101.0L126.3,106.4M49.7,93.6L52.1,90.4M53.3,92.4L59.3,88.0M45.1,103.4L42.9,110.1M47.6,102.4L48.0,108.0M60.5,91.4L59.3,88.0M63.4,90.4L65.0,85.9M67.5,89.4L65.0,85.9M89.8,89.6L88.9,85.9M94.2,90.9L88.9,85.9M104.9,92.6L110.4,89.4M99.8,102.8L100.1,109.9M70.6,90.7L65.0,85.9M80.2,91.9L84.2,88.4M74.1,102.2L71.9,108.8M115.8,90.5L113.6,87.4M122.1,100.0L126.3,106.4M56.5,91.1L59.3,88.0M59.3,90.1L65.0,85.9M50.9,101.1L48.0,108.0" stroke="#a8961e" stroke-width="0.9" fill="none"/>
<circle cx="126.54" cy="24.45" r="3.18" fill="url(#gFe)"/>
<circle cx="42.97" cy="22.25" r="3.18" fill="url(#gFe)"/>
<circle cx="51.8" cy="22.25" r="3.18" fill="url(#gFe)"/>
<circle cx="60.64" cy="22.25" r="3.18" fill="url(#gFe)"/>
<circle cx="69.47" cy="22.25" r="3.18" fill="url(#gFe)"/>
<circle cx="77.95" cy="22.25" r="3.18" fill="url(#gFe)"/>
<circle cx="86.78" cy="22.25" r="3.18" fill="url(#gFe)"/>
<circle cx="94.56" cy="22.25" r="3.18" fill="url(#gFe)"/>
<circle cx="100.39" cy="22.25" r="3.18" fill="url(#gFe)"/>
<circle cx="106.57" cy="22.25" r="3.18" fill="url(#gFe)"/>
<circle cx="112.76" cy="22.25" r="3.18" fill="url(#gFe)"/>
<circle cx="117.53" cy="22.25" r="3.18" fill="url(#gFe)"/>
<circle cx="122.12" cy="22.25" r="3.18" fill="url(#gFe)"/>
<circle cx="42.97" cy="61.17" r="3.18" fill="url(#gFe)"/>
<circle cx="51.8" cy="61.17" r="3.18" fill="url(#gFe)"/>
<circle cx="60.64" cy="61.17" r="3.18" fill="url(#gFe)"/>
<circle cx="69.47" cy="61.17" r="3.18" fill="url(#gFe)"/>
<circle cx="77.95" cy="61.17" r="3.18" fill="url(#gFe)"/>
<circle cx="86.78" cy="61.17" r="3.18" fill="url(#gFe)"/>
<circle cx="94.56" cy="61.17" r="3.18" fill="url(#gFe)"/>
<circle cx="100.39" cy="61.17" r="3.18" fill="url(#gFe)"/>
<circle cx="106.57" cy="61.17" r="3.18" fill="url(#gFe)"/>
<circle cx="112.76" cy="61.17" r="3.18" fill="url(#gFe)"/>
<circle cx="117.53" cy="61.17" r="3.18" fill="url(#gFe)"/>
<circle cx="122.47" cy="61.17" r="3.18" fill="url(#gFe)"/>
<circle cx="53.69" cy="94.2" r="3.18" fill="url(#gFe)"/>
<circle cx="70.07" cy="92.92" r="3.29" fill="url(#gFe)"/>
<circle cx="97.74" cy="24.45" r="3.39" fill="url(#gFe)"/>
<circle cx="115.41" cy="24.45" r="3.39" fill="url(#gFe)"/>
<circle cx="97.74" cy="62.37" r="3.39" fill="url(#gFe)"/>
<circle cx="115.41" cy="62.37" r="3.39" fill="url(#gFe)"/>
<circle cx="90.63" cy="93.24" r="3.39" fill="url(#gFe)"/>
<circle cx="76.18" cy="95.49" r="3.39" fill="url(#gFe)"/>
<circle cx="117.93" cy="93.56" r="3.39" fill="url(#gFe)"/>
<circle cx="103.92" cy="35.16" r="3.5" fill="url(#gSe)"/>
<circle cx="78.3" cy="70.92" r="3.5" fill="url(#gSe)"/>
<circle cx="103.92" cy="71.1" r="3.5" fill="url(#gSe)"/>
<circle cx="61.72" cy="94.85" r="3.5" fill="url(#gFe)"/>
<circle cx="124.24" cy="24.45" r="3.6" fill="url(#gFe)"/>
<circle cx="79.19" cy="35.34" r="3.6" fill="url(#gSe)"/>
<circle cx="126.89" cy="34.98" r="3.6" fill="url(#gSe)"/>
<circle cx="125.12" cy="62.37" r="3.6" fill="url(#gFe)"/>
<circle cx="52.69" cy="70.92" r="3.6" fill="url(#gSe)"/>
<circle cx="47.27" cy="96.77" r="3.6" fill="url(#gFe)"/>
<circle cx="99.46" cy="95.81" r="3.6" fill="url(#gFe)"/>
<circle cx="48.03" cy="108.01" r="3.6" fill="url(#gSe)"/>
<circle cx="71.94" cy="108.83" r="3.6" fill="url(#gSe)"/>
<circle cx="65.23" cy="17.67" r="3.71" fill="url(#gSe)"/>
<circle cx="89.55" cy="17.67" r="3.71" fill="url(#gSe)"/>
<circle cx="114.52" cy="17.67" r="3.71" fill="url(#gSe)"/>
<circle cx="81.84" cy="24.45" r="3.71" fill="url(#gFe)"/>
<circle cx="110.11" cy="24.45" r="3.71" fill="url(#gFe)"/>
<circle cx="56.22" cy="35.34" r="3.71" fill="url(#gSe)"/>
<circle cx="73" cy="34.98" r="3.71" fill="url(#gSe)"/>
<circle cx="99.51" cy="34.98" r="3.71" fill="url(#gSe)"/>
<circle cx="81.84" cy="62.37" r="3.71" fill="url(#gFe)"/>
<circle cx="110.11" cy="62.37" r="3.71" fill="url(#gFe)"/>
<circle cx="73" cy="71.8" r="3.71" fill="url(#gSe)"/>
<circle cx="99.51" cy="71.98" r="3.71" fill="url(#gSe)"/>
<circle cx="126.36" cy="71.98" r="3.71" fill="url(#gSe)"/>
<circle cx="64.99" cy="85.94" r="3.71" fill="url(#gSeD)"/>
<circle cx="88.9" cy="85.94" r="3.71" fill="url(#gSeD)"/>
<circle cx="113.63" cy="87.37" r="3.71" fill="url(#gSe)"/>
<circle cx="100.14" cy="109.85" r="3.71" fill="url(#gSe)"/>
<circle cx="126.3" cy="106.38" r="3.71" fill="url(#gSe)"/>
<circle cx="56.22" cy="23.85" r="3.82" fill="url(#gFe)"/>
<circle cx="67.7" cy="34.63" r="3.82" fill="url(#gSe)"/>
<circle cx="95.09" cy="34.63" r="3.82" fill="url(#gSe)"/>
<circle cx="65.23" cy="52.37" r="3.82" fill="url(#gSeD)"/>
<circle cx="89.29" cy="52.37" r="3.82" fill="url(#gSeD)"/>
<circle cx="113.99" cy="52.37" r="3.82" fill="url(#gSeD)"/>
<circle cx="56.22" cy="62.97" r="3.82" fill="url(#gFe)"/>
<circle cx="48.27" cy="71.63" r="3.82" fill="url(#gSe)"/>
<circle cx="86.62" cy="96.45" r="3.82" fill="url(#gFe)"/>
<circle cx="119.82" cy="23.85" r="3.92" fill="url(#gFe)"/>
<circle cx="50.04" cy="34.98" r="3.92" fill="url(#gSe)"/>
<circle cx="119.82" cy="62.97" r="3.92" fill="url(#gFe)"/>
<circle cx="68.95" cy="96.77" r="3.92" fill="url(#gFe)"/>
<circle cx="115.52" cy="97.26" r="3.92" fill="url(#gFe)"/>
<circle cx="125.16" cy="95.65" r="3.92" fill="url(#gFe)"/>
<circle cx="122.47" cy="34.28" r="4.03" fill="url(#gSe)"/>
<circle cx="67.7" cy="72.86" r="4.03" fill="url(#gSe)"/>
<circle cx="95.09" cy="73.22" r="4.03" fill="url(#gSe)"/>
<circle cx="42.92" cy="110.06" r="4.03" fill="url(#gSe)"/>
<circle cx="67.44" cy="110.87" r="4.03" fill="url(#gSe)"/>
<circle cx="59.22" cy="15.72" r="4.13" fill="url(#gSe)"/>
<circle cx="84.33" cy="15.72" r="4.13" fill="url(#gSe)"/>
<circle cx="110.11" cy="15.72" r="4.13" fill="url(#gSe)"/>
<circle cx="39.08" cy="23.85" r="4.13" fill="url(#gFe)"/>
<circle cx="65.05" cy="23.85" r="4.13" fill="url(#gFe)"/>
<circle cx="73.89" cy="23.85" r="4.13" fill="url(#gFe)"/>
<circle cx="91.55" cy="23.85" r="4.13" fill="url(#gFe)"/>
<circle cx="103.04" cy="23.85" r="4.13" fill="url(#gFe)"/>
<circle cx="42.97" cy="34.81" r="4.13" fill="url(#gSe)"/>
<circle cx="39.08" cy="62.97" r="4.13" fill="url(#gFe)"/>
<circle cx="65.05" cy="62.97" r="4.13" fill="url(#gFe)"/>
<circle cx="73.89" cy="62.97" r="4.13" fill="url(#gFe)"/>
<circle cx="91.55" cy="62.97" r="4.13" fill="url(#gFe)"/>
<circle cx="103.04" cy="62.97" r="4.13" fill="url(#gFe)"/>
<circle cx="42.97" cy="72.86" r="4.13" fill="url(#gSe)"/>
<circle cx="122.47" cy="73.75" r="4.13" fill="url(#gSe)"/>
<circle cx="59.27" cy="87.98" r="4.13" fill="url(#gSeD)"/>
<circle cx="84.2" cy="88.39" r="4.13" fill="url(#gSeD)"/>
<circle cx="110.36" cy="89.42" r="4.13" fill="url(#gSe)"/>
<circle cx="95.03" cy="112.51" r="4.13" fill="url(#gSe)"/>
<circle cx="122.22" cy="112.1" r="4.13" fill="url(#gSe)"/>
<circle cx="59.22" cy="52.54" r="4.24" fill="url(#gSeD)"/>
<circle cx="84.06" cy="52.54" r="4.24" fill="url(#gSeD)"/>
<circle cx="109.58" cy="52.54" r="4.24" fill="url(#gSeD)"/>
<circle cx="56.91" cy="98.06" r="4.24" fill="url(#gFe)"/>
<circle cx="81" cy="98.86" r="4.24" fill="url(#gFe)"/>
<circle cx="109.9" cy="99.67" r="4.24" fill="url(#gFe)"/>
<circle cx="47.39" cy="23.85" r="4.35" fill="url(#gFe)"/>
<circle cx="61.52" cy="33.57" r="4.35" fill="url(#gSe)"/>
<circle cx="47.39" cy="62.97" r="4.35" fill="url(#gFe)"/>
<circle cx="88.9" cy="33.57" r="4.56" fill="url(#gSe)"/>
<circle cx="117.17" cy="33.22" r="4.56" fill="url(#gSe)"/>
<circle cx="61.52" cy="74.98" r="4.56" fill="url(#gSe)"/>
<circle cx="52.12" cy="90.44" r="4.56" fill="url(#gSe)"/>
<circle cx="78.07" cy="91.05" r="4.56" fill="url(#gSe)"/>
<circle cx="105.25" cy="92.07" r="4.56" fill="url(#gSe)"/>
<circle cx="35.15" cy="112.92" r="4.56" fill="url(#gSe)"/>
<circle cx="61.31" cy="113.94" r="4.56" fill="url(#gSe)"/>
<circle cx="35.02" cy="34.45" r="4.66" fill="url(#gSe)"/>
<circle cx="52.16" cy="52.72" r="4.66" fill="url(#gSe)"/>
<circle cx="78.3" cy="52.72" r="4.66" fill="url(#gSe)"/>
<circle cx="105.16" cy="52.72" r="4.66" fill="url(#gSe)"/>
<circle cx="35.02" cy="74.45" r="4.66" fill="url(#gSe)"/>
<circle cx="88.9" cy="75.34" r="4.66" fill="url(#gSe)"/>
<circle cx="117.17" cy="76.22" r="4.66" fill="url(#gSe)"/>
<circle cx="39.56" cy="100.95" r="4.66" fill="url(#gFe)"/>
<circle cx="88.9" cy="115.98" r="4.66" fill="url(#gSe)"/>
<circle cx="116.9" cy="116.6" r="4.66" fill="url(#gSe)"/>
<circle cx="52.16" cy="13.25" r="4.77" fill="url(#gSe)"/>
<circle cx="78.3" cy="13.25" r="4.77" fill="url(#gSe)"/>
<circle cx="105.16" cy="13.25" r="4.77" fill="url(#gSe)"/>
<circle cx="121.14" cy="102.88" r="4.77" fill="url(#gFe)"/>
<circle cx="48.56" cy="102.56" r="4.88" fill="url(#gFe)"/>
<circle cx="65.74" cy="101.27" r="4.88" fill="url(#gFe)"/>
<circle cx="92.24" cy="102.88" r="4.88" fill="url(#gFe)"/>
<circle cx="74.57" cy="104.48" r="4.98" fill="url(#gFe)"/>
<circle cx="102.67" cy="105.29" r="4.98" fill="url(#gFe)"/>
<circle cx="141.5" cy="47.5" r="4.5" fill="#586cb8"/><circle cx="141.5" cy="62.4" r="4.5" fill="#c8b42a"/>
<text x="152.4" y="52.8" text-anchor="start" fill="#231815" style="font-size:14.3px;" letter-spacing="0.4">Fe</text>
<text x="152.4" y="67.6" text-anchor="start" fill="#231815" style="font-size:14.3px;" letter-spacing="0.4">Se</text>
<text x="1.0" y="8.8" text-anchor="start" fill="#231815" style="font-size:14.3px;font-weight:bold;" >a</text>
<line x1="14.3" y1="101.6" x2="14.3" y2="94.5" stroke="#231815" stroke-width="1.2" />
<polygon points="14.3,90.6 12.4,95.6 16.2,95.6" fill="#231815" />
<line x1="14.3" y1="101.6" x2="22" y2="101.6" stroke="#231815" stroke-width="1.2" />
<polygon points="25.9,101.6 21.2,99.7 21.2,103.5" fill="#231815" />
<line x1="14.3" y1="101.6" x2="9.2" y2="105.5" stroke="#231815" stroke-width="1.2" />
<polygon points="6,107.9 10.9,106.9 8.6,103.7" fill="#231815" />
<text x="10.8" y="88.8" text-anchor="start" fill="#231815" style="font-size:10.4px;font-style:italic;" >c</text>
<text x="27.2" y="104.7" text-anchor="start" fill="#231815" style="font-size:10.4px;font-style:italic;" >b</text>
<text x="-0.2" y="111.8" text-anchor="start" fill="#231815" style="font-size:10.4px;font-style:italic;" >a</text>
<polygon points="19.7,208.6 72,243 72.3,244.8 20.2,210.4" fill="#dcd9e2" />
<polygon points="72,243 180.8,173.7 180.8,176 72.3,244.8" fill="#e6e4e6" />
<polygon points="16.9,181.2 69.8,216.4 72,243 19.7,208.6" fill="url(#gLeft)" stroke="#b2abc4" stroke-width="0.4"/>
<polygon points="69.8,216.4 180.8,155 180.8,173.7 72,243" fill="url(#gFront)" stroke="#a7a1b4" stroke-width="0.4"/>
<polygon points="16.9,181.2 69.8,216.4 180.8,155 126,143" fill="url(#gTop)" stroke="#a8a4ae" stroke-width="0.4"/>
<polygon points="33.2,190.2 52,183.4 86,199.5 75,213.5 69.8,216.4 58,208.6" fill="#8e8996" opacity="0.92"/>
<polygon points="171.2,152.8 180.8,155 180.8,173.7 171.2,179.9" fill="#c4c0d0" opacity="0.6"/>
<polygon points="58,181.2 82,195.8 161.6,158.8 143,151.6 120,146 80,160" fill="#1867cf" />
<polygon points="66,186.2 82,195.8 161.6,158.8 152.5,155.3" fill="#1557b2" opacity="0.75"/>
<polygon points="96,178.5 146,158 140.5,156 91,176" fill="#2a80e4" opacity="0.7"/>
<polygon points="97,191.5 102.6,188.7 108.2,191.9 102.8,194.6" fill="#c2a03a" />
<polygon points="97,190.6 102.6,187.8 108.2,191 102.8,193.7" fill="#ecd470" />
<polygon points="120,179.5 125.6,176.7 131.2,179.9 125.8,182.6" fill="#c2a03a" />
<polygon points="120,178.6 125.6,175.8 131.2,179 125.8,181.7" fill="#ecd470" />
<polygon points="138,170.5 143.6,167.7 149.2,170.9 143.8,173.6" fill="#c2a03a" />
<polygon points="138,169.6 143.6,166.8 149.2,170 143.8,172.7" fill="#ecd470" />
<polygon points="151.8,163.8 157.4,161 163,164.2 157.6,166.9" fill="#c2a03a" />
<polygon points="151.8,162.9 157.4,160.1 163,163.3 157.6,166" fill="#ecd470" />
<path d="M37.5,174.6 C38.58,174 41.88,172.07 44,171 C46.12,169.93 47.33,169.07 50.2,168.2 C53.07,167.33 57.3,166.97 61.2,165.8 C65.1,164.63 69.97,162.43 73.6,161.2 C77.23,159.97 79.88,159.37 83,158.4 C86.12,157.43 88.93,156.4 92.3,155.4 C95.67,154.4 99.83,153.48 103.2,152.4 C106.57,151.32 108.88,150.13 112.5,148.9 C116.12,147.67 120.75,146.18 124.9,145 C129.05,143.82 133.25,142.82 137.4,141.8 C141.55,140.78 145.65,139.93 149.8,138.9 C153.95,137.87 159.27,136.38 162.3,135.6 C165.33,134.82 167.05,134.43 168,134.2 L168,134.2 C167.05,134.75 165.33,135.92 162.3,137.5 C159.27,139.08 153.95,141.73 149.8,143.7 C145.65,145.67 141.55,147.53 137.4,149.3 C133.25,151.07 129.05,152.68 124.9,154.3 C120.75,155.92 116.12,157.82 112.5,159 C108.88,160.18 106.57,160.63 103.2,161.4 C99.83,162.17 95.42,162.97 92.3,163.6 C89.18,164.23 86.58,164.33 84.5,165.2 C82.42,166.07 81.62,167.17 79.8,168.8 C77.98,170.43 75.93,173.18 73.6,175 C71.27,176.82 68.65,178.72 65.8,179.7 C62.95,180.68 59.87,181.15 56.5,180.9 C53.13,180.65 48.77,179.25 45.6,178.2 C42.43,177.15 38.85,175.2 37.5,174.6 Z" fill="url(#gGreen)" stroke="#17913b" stroke-width="1.2" stroke-linejoin="round"/>
<path d="M37.3,174.5 C38.68,175.12 42.4,177.13 45.6,178.2 C48.8,179.27 53.13,180.65 56.5,180.9 C59.87,181.15 62.95,180.68 65.8,179.7 C68.65,178.72 71.27,176.82 73.6,175 C75.93,173.18 77.98,170.43 79.8,168.8 C81.62,167.17 82.42,166.07 84.5,165.2 C86.58,164.33 89.18,164.23 92.3,163.6 C95.42,162.97 99.83,162.17 103.2,161.4 C106.57,160.63 108.88,160.18 112.5,159 C116.12,157.82 120.75,155.92 124.9,154.3 C129.05,152.68 133.25,151.07 137.4,149.3 C141.55,147.53 145.65,145.67 149.8,143.7 C153.95,141.73 159.23,139.08 162.3,137.5 C165.37,135.92 167.22,134.75 168.2,134.2" fill="none" stroke="#4cc470" stroke-width="0.7" opacity="0.8"/>
<path d="M42,175.6 C43.67,175.77 48.67,176.63 52,176.6 C55.33,176.57 59,176.27 62,175.4 C65,174.53 67.5,173.1 70,171.4 C72.5,169.7 74.67,166.83 77,165.2 C79.33,163.57 80.83,162.63 84,161.6 C87.17,160.57 91.67,160.1 96,159 C100.33,157.9 105,156.57 110,155 C115,153.43 121,151.33 126,149.6 C131,147.87 135.33,146.27 140,144.6 C144.67,142.93 149.83,141.13 154,139.6 C158.17,138.07 163.17,136.1 165,135.4" fill="none" stroke="#0a6a26" stroke-width="2.2" opacity="0.55"/>
<path d="M46,171.8 C47.67,171.43 52.67,170.3 56,169.6 C59.33,168.9 62.67,168.6 66,167.6 C69.33,166.6 72.33,164.93 76,163.6 C79.67,162.27 84,160.87 88,159.6 C92,158.33 95.67,157.33 100,156 C104.33,154.67 109,153.17 114,151.6 C119,150.03 124.67,148.2 130,146.6 C135.33,145 141,143.5 146,142 C151,140.5 157.67,138.33 160,137.6" fill="none" stroke="#2fb458" stroke-width="1.6" opacity="0.65"/>
<path d="M83,158.6 l1.6,3.4 l-0.2,4.6" fill="none" stroke="#0a6224" stroke-width="1.1" opacity="0.6"/>
<path d="M92.5,155.6 l1.6,3.4 l-0.2,4.6" fill="none" stroke="#0a6224" stroke-width="1.1" opacity="0.6"/>
<path d="M103.4,152.6 l1.6,3.4 l-0.2,4.6" fill="none" stroke="#0a6224" stroke-width="1.1" opacity="0.6"/>
<path d="M114.2,148.6 l1.6,3.4 l-0.2,4.6" fill="none" stroke="#0a6224" stroke-width="1.1" opacity="0.6"/>
<line x1="50" y1="121" x2="98.8" y2="165.6" stroke="#231815" stroke-width="1.15" stroke-dasharray="4.4,2.7"/>
<path d="M121.5,124.5 C119,135 116.5,148 112.8,164.5" fill="none" stroke="#231815" stroke-width="1.15" stroke-dasharray="4,2.4"/>
<ellipse cx="110.3" cy="170.0" rx="2.8" ry="2.2" fill="none" stroke="#231815" stroke-width="1.0" transform="rotate(-25 110.3 170.0)"/>
<line x1="105.8" y1="165.8" x2="108.2" y2="168.2" stroke="#231815" stroke-width="1.0" />
<line x1="113.6" y1="164.6" x2="112.4" y2="167.9" stroke="#231815" stroke-width="1.0" />
<path d="M99.2,153.2 C100.5,142.5 110,133.5 123.4,131.6" fill="none" stroke="#231815" stroke-width="1.0" />
<path d="M143.6,133.2 C150.5,136.8 156.9,144 157.3,152 C157.6,160 153.5,167 146.6,170.8" fill="none" stroke="#231815" stroke-width="1.0" />
<path d="M146.6,170.6 C150,173.8 157.0,174.4 160.3,178.0 C162.6,181.4 161.0,185.0 157.8,186.6" fill="none" stroke="#231815" stroke-width="1.0" />
<path d="M126.2,181.6 C124.6,187.8 128,193.6 137.0,193.4" fill="none" stroke="#231815" stroke-width="1.0" />
<circle cx="133.5" cy="130.9" r="10.4" fill="#fff" stroke="#231815" stroke-width="1.1"/>
<circle cx="147.6" cy="187.8" r="10.6" fill="#fff" stroke="#231815" stroke-width="1.0"/>
<text transform="translate(125.4,136.0) scale(0.8,1)" fill="#231815" style="font-size:15.8px"><tspan style="font-style:italic">V</tspan><tspan dx="-2.6" dy="0.6" style="font-size:11.6px">xy</tspan></text>
<text transform="translate(140.0,193.2) scale(0.8,1)" fill="#231815" style="font-size:15.8px"><tspan style="font-style:italic">V</tspan><tspan dx="-2.6" dy="0.4" style="font-size:11.6px">xx</tspan></text>
<path d="M160.0,165.6 L166.8,167.1 L166.8,200.3" fill="none" stroke="#231815" stroke-width="1.0" />
<line x1="159.2" y1="200.3" x2="178" y2="200.3" stroke="#231815" stroke-width="1.0" />
<line x1="163.6" y1="200.3" x2="160.6" y2="205" stroke="#231815" stroke-width="1.0" />
<line x1="167.4" y1="200.3" x2="164.4" y2="205" stroke="#231815" stroke-width="1.0" />
<line x1="171.2" y1="200.3" x2="168.2" y2="205" stroke="#231815" stroke-width="1.0" />
<line x1="175" y1="200.3" x2="172" y2="205" stroke="#231815" stroke-width="1.0" />
<line x1="100" y1="192" x2="65.4" y2="208.3" stroke="#231815" stroke-width="1.0" />
<circle cx="58.4" cy="212.4" r="8.4" fill="#fff" stroke="#231815" stroke-width="1.0"/>
<path d="M53.0,212.8 C54.2,205.6 57.0,205.6 58.4,212.4 C59.8,219.2 62.6,219.2 63.8,212.0" fill="none" stroke="#231815" stroke-width="1.0" />
<path d="M50.6,215.4 L43.3,218.3 L45.6,251.2" fill="none" stroke="#231815" stroke-width="1.0" />
<line x1="36.2" y1="251.2" x2="54.8" y2="251.2" stroke="#231815" stroke-width="1.0" />
<line x1="40.6" y1="251.2" x2="37.4" y2="255.4" stroke="#231815" stroke-width="1.0" />
<line x1="44.3" y1="251.2" x2="41.1" y2="255.4" stroke="#231815" stroke-width="1.0" />
<line x1="48" y1="251.2" x2="44.8" y2="255.4" stroke="#231815" stroke-width="1.0" />
<line x1="51.7" y1="251.2" x2="48.5" y2="255.4" stroke="#231815" stroke-width="1.0" />
<line x1="45" y1="241.8" x2="49.4" y2="239.6" stroke="#231815" stroke-width="1.0" />
<line x1="49.9" y1="235.2" x2="51.2" y2="242.7" stroke="#231815" stroke-width="1.0" />
<line x1="53.1" y1="232.5" x2="54.7" y2="243.6" stroke="#231815" stroke-width="1.5" />
<line x1="54.3" y1="236.6" x2="59.6" y2="234.6" stroke="#231815" stroke-width="1.0" />
<text transform="translate(56.9,249.0) scale(0.82,1)" fill="#231815" style="font-size:15.5px"><tspan style="font-style:italic">V</tspan><tspan dx="-1.8" dy="1.8" style="font-size:10.8px">g</tspan></text>
<text x="23.6" y="153.9" text-anchor="start" fill="#231815" style="font-size:13.6px;" letter-spacing="1.0">h-BN</text>
<line x1="40.6" y1="158.3" x2="46.3" y2="173" stroke="#231815" stroke-width="1.0" />
<text x="78.2" y="183.0" text-anchor="start" fill="#ffffff" style="font-size:13.0px;" letter-spacing="1.1">FeSe</text>
<text x="84.8" y="219.2" text-anchor="start" fill="#231815" style="font-size:13.0px;" letter-spacing="1.5">SIC</text>
<line x1="97.2" y1="229" x2="110" y2="237" stroke="#231815" stroke-width="1.0" />
<text x="96.6" y="250.7" text-anchor="start" fill="#231815" style="font-size:13.0px;" letter-spacing="1.0">silver paste</text>
<text x="1.2" y="273.4" text-anchor="start" fill="#231815" style="font-size:14.3px;font-weight:bold;" >b</text>
<clipPath id="cb"><rect x="21.9" y="264.8" width="119.4" height="88.1"/></clipPath>
<linearGradient id="gBg" x1="0" y1="0.35" x2="1" y2="0"><stop offset="0" stop-color="#755250"/><stop offset="0.25" stop-color="#714e4c"/><stop offset="0.6" stop-color="#6b4a4a"/><stop offset="1" stop-color="#62464a"/></linearGradient>
<g clip-path="url(#cb)">
<rect x="21.9" y="264.8" width="119.4" height="88.1" fill="url(#gBg)"/>
<polygon points="98,311 141.3,311 141.3,352.9 113,352.9" fill="#6a4d52" opacity="0.8"/>
<polygon points="141.3,335.6 141.3,352.9 104,352.9" fill="#4c3e4a" />
<polygon points="29.8,285.9 79.8,285.9 79.8,290.8 42.5,290.8 42,289.6 29.8,288.6" fill="#877c80" />
<polygon points="43.2,290.6 79.8,290.6 79.8,286.6 107.9,287 107.9,301 141.3,301 141.3,312 107.9,311.6 52,311 45.5,308.6 43.8,303" fill="#766c70" />
<polygon points="85.4,287.4 107.9,287.4 107.9,295.2 85.4,295.2" fill="#7c7278" />
<polygon points="109.6,318.6 141.3,317.6 141.3,321.6 118,321" fill="#857a7e" />
<polygon points="21.83,300.1 67.96,301.6 68.04,299.8 21.97,297.1" fill="#fbd9be" />
<polygon points="67.65,293.6 67.65,308.6 69.55,308.6 69.55,293.6" fill="#fbd9be" />
<polygon points="141.27,298.7 93.98,300.1 94.02,301.9 141.33,301.3" fill="#fbd9be" />
<polygon points="92.55,293.6 92.55,308.6 94.45,308.6 94.45,293.6" fill="#fbd9be" />
<polygon points="32.03,266.49 51.2,277.81 52.8,275.39 34.77,262.31" fill="#fbd9be" />
<polygon points="50.8,277.51 71.55,290.64 72.65,288.96 52.4,275.09" fill="#fbd9be" />
<polygon points="71.5,288.4 71.55,296.4 73.45,296.4 73.5,288.4" fill="#fbd9be" />
<polygon points="79.7,264 80,298.6 82,298.6 82.3,264" fill="#fbd9be" />
<polygon points="110.47,262.56 99.02,275.88 100.98,277.72 113.53,265.44" fill="#fbd9be" />
<polygon points="99.31,275.58 86.57,289.72 88.03,291.08 101.29,277.42" fill="#fbd9be" />
<polygon points="86.1,289.4 86.15,298.6 88.05,298.6 88.1,289.4" fill="#fbd9be" />
<polygon points="22.39,348.08 36.83,337.25 35.17,334.75 19.61,343.92" fill="#fbd9be" />
<polygon points="36.43,337.55 73.16,312.43 72.04,310.77 34.77,335.05" fill="#fbd9be" />
<polygon points="73.7,312.4 73.65,304 71.75,304 71.7,312.4" fill="#fbd9be" />
<polygon points="78.8,304 78.5,353.5 81.3,353.5 80.8,304" fill="#fbd9be" />
<polygon points="84.95,304 84.9,311.2 86.9,311.2 86.85,304" fill="#fbd9be" />
<polygon points="84.92,310.83 106.91,338.88 109.09,337.12 86.48,309.57" fill="#fbd9be" />
<polygon points="106.71,338.58 118.76,354.71 122.04,352.09 108.89,336.82" fill="#fbd9be" />
</g>
<rect x="49.8" y="272.6" width="8.1" height="9.6" fill="#ffffff"/>
<text x="53.849999999999994" y="281.3" text-anchor="middle" fill="#111" style="font-size:11.2px;" >4</text>
<rect x="75.6" y="272.6" width="8.1" height="9.6" fill="#ffffff"/>
<text x="79.64999999999999" y="281.3" text-anchor="middle" fill="#111" style="font-size:11.2px;" >5</text>
<rect x="100.0" y="272.6" width="8.1" height="9.6" fill="#ffffff"/>
<text x="104.05" y="281.3" text-anchor="middle" fill="#111" style="font-size:11.2px;" >6</text>
<rect x="49.8" y="321.8" width="8.1" height="9.6" fill="#ffffff"/>
<text x="53.849999999999994" y="330.5" text-anchor="middle" fill="#111" style="font-size:11.2px;" >1</text>
<rect x="75.6" y="321.8" width="8.1" height="9.6" fill="#ffffff"/>
<text x="79.64999999999999" y="330.5" text-anchor="middle" fill="#111" style="font-size:11.2px;" >2</text>
<rect x="100.0" y="321.8" width="8.1" height="9.6" fill="#ffffff"/>
<text x="104.05" y="330.5" text-anchor="middle" fill="#111" style="font-size:11.2px;" >3</text>
<text x="24.9" y="308.0" text-anchor="start" fill="#ecd83c" style="font-size:10.6px;" >S</text>
<text x="129.6" y="308.0" text-anchor="start" fill="#ecd83c" style="font-size:10.6px;" >D</text>
<text x="124.4" y="280.8" text-anchor="start" fill="#f6f0f0" style="font-size:10.4px;" >S1</text>
<text x="39.2" y="347.4" text-anchor="start" fill="#f6f0f0" style="font-size:10.8px;" >40 µm</text>
<line x1="38.6" y1="349.6" x2="72.4" y2="349.6" stroke="#f6f0f0" stroke-width="1.1" />
<line x1="105.5" y1="291.3" x2="145" y2="291.3" stroke="#231815" stroke-width="1.0" />
<text x="145.4" y="295.7" text-anchor="start" fill="#231815" style="font-size:13.2px;" letter-spacing="1.3">FeSe</text>
<line x1="125.5" y1="334" x2="145" y2="334" stroke="#231815" stroke-width="1.0" />
<text x="146.2" y="337.8" text-anchor="start" fill="#231815" style="font-size:13.4px;" letter-spacing="1.6">h-BN</text>
<line x1="128.6" y1="347.9" x2="145" y2="347.9" stroke="#231815" stroke-width="1.0" />
<text x="150.2" y="353.4" text-anchor="start" fill="#231815" style="font-size:13.4px;" letter-spacing="1.8">SIC</text>
<clipPath id="cc"><rect x="249.9" y="13.4" width="99.4" height="74.5"/></clipPath>
<g clip-path="url(#cc)">
<path d="M249.9,87.2 C250.87,87.2 254.62,87.45 255.72,87.2 C256.81,86.95 256,89.24 256.46,85.7 C256.91,82.16 257.92,70.04 258.44,65.98 C258.95,61.93 259.02,62.51 259.55,61.37 C260.09,60.23 260.58,59.99 261.66,59.16 C262.73,58.33 263.82,57.71 265.99,56.39 C268.15,55.07 271.14,53.47 274.65,51.22 C278.16,48.98 282.9,45.63 287.02,42.92 C291.15,40.21 295.27,37.42 299.4,34.99 C303.52,32.56 307.65,30.47 311.77,28.34 C315.9,26.22 320.02,24.22 324.15,22.26 C328.27,20.29 332.4,18.41 336.52,16.54 C340.65,14.66 346.84,11.92 348.9,11" fill="none" stroke="#1d5aa8" stroke-width="1.2" stroke-linejoin="round" stroke-linecap="round" />
<path d="M249.9,87.2 C250.87,87.2 254.62,87.45 255.72,87.2 C256.81,86.95 256.07,88.47 256.46,85.7 C256.85,82.93 257.65,73.7 258.07,70.59 C258.48,67.49 258.44,67.98 258.93,67.09 C259.43,66.2 259.86,66.07 261.04,65.24 C262.21,64.41 263.72,63.46 265.99,62.11 C268.26,60.76 271.14,59.25 274.65,57.13 C278.16,55 282.9,51.87 287.02,49.38 C291.15,46.89 295.27,44.4 299.4,42.18 C303.52,39.97 307.65,38.03 311.77,36.09 C315.9,34.16 320.02,32.31 324.15,30.56 C328.27,28.81 332.4,27.18 336.52,25.58 C340.65,23.98 346.84,21.73 348.9,20.96" fill="none" stroke="#b5188f" stroke-width="1.2" stroke-linejoin="round" stroke-linecap="round" />
</g>
<rect x="249.9" y="13.4" width="99" height="73.8" fill="none" stroke="#595350" stroke-width="0.75"/>
<line x1="274.65" y1="87.2" x2="274.65" y2="82.6" stroke="#595350" stroke-width="0.75"/>
<line x1="299.4" y1="87.2" x2="299.4" y2="82.6" stroke="#595350" stroke-width="0.75"/>
<line x1="324.15" y1="87.2" x2="324.15" y2="82.6" stroke="#595350" stroke-width="0.75"/>
<line x1="249.9" y1="50.3" x2="254.5" y2="50.3" stroke="#595350" stroke-width="0.75"/>
<text x="256" y="24.9" text-anchor="start" fill="#231815" style="font-size:10.2px;" >#0</text>
<line x1="294.4" y1="53.3" x2="304.0" y2="53.3" stroke="#b5188f" stroke-width="1.3"/>
<text x="306.2" y="56.9" fill="#b5188f" style="font-size:10.6px"><tspan style="font-style:italic">R</tspan><tspan dy="1.5" dx="-0.4" style="font-size:10.6px">12</tspan></text>
<line x1="294.4" y1="67.6" x2="304.0" y2="67.6" stroke="#1d5aa8" stroke-width="1.3"/>
<text x="306.2" y="71.2" fill="#1d5aa8" style="font-size:10.6px"><tspan style="font-style:italic">R</tspan><tspan dy="1.5" dx="-0.4" style="font-size:10.6px">45</tspan></text>
<text x="248.89999999999998" y="18.7" text-anchor="end" fill="#231815" style="font-size:14.5px;" >40</text>
<text x="248.7" y="55.8" text-anchor="end" fill="#231815" style="font-size:14.5px;" >20</text>
<text x="245.0" y="89.6" text-anchor="end" fill="#231815" style="font-size:14.5px;" >0</text>
<text transform="translate(225.6,50.2) rotate(-90)" fill="#231815" style="font-size:13.6px"><tspan x="-21.4" style="font-style:italic;font-size:14.3px">R</tspan><tspan x="-13.3" dy="2.9" style="font-size:11.8px">xx</tspan><tspan x="-0.2" dy="-2.9" style="letter-spacing:0.8px">(Ω)</tspan></text>
<text x="203.8" y="8.8" text-anchor="start" fill="#231815" style="font-size:14.3px;font-weight:bold;" >c</text>
<clipPath id="cf"><rect x="249.9" y="102.6" width="99.4" height="73.7"/></clipPath>
<g clip-path="url(#cf)">
<path d="M249.9,175.3 C255.23,175.3 290.21,175.29 295.6,175.29 C300.99,175.29 295.99,175.29 296.1,175.29 C296.21,175.29 296.44,175.28 296.55,175.28 C296.66,175.28 296.89,175.27 297,175.27 C297.11,175.26 297.34,175.25 297.45,175.24 C297.56,175.24 297.79,175.22 297.9,175.21 C298,175.2 298.24,175.17 298.35,175.15 C298.45,175.13 298.69,175.08 298.8,175.05 C298.9,175.02 299.14,174.94 299.25,174.89 C299.35,174.84 299.59,174.71 299.7,174.63 C299.8,174.55 300.04,174.33 300.15,174.21 C300.25,174.08 300.49,173.73 300.6,173.53 C300.7,173.32 300.94,172.78 301.05,172.46 C301.15,172.15 301.39,171.31 301.5,170.84 C301.6,170.38 301.84,169.13 301.95,168.48 C302.05,167.82 302.29,166.09 302.4,165.23 C302.5,164.38 302.74,162.16 302.85,161.13 C302.95,160.11 303.19,157.55 303.3,156.45 C303.4,155.34 303.64,152.73 303.75,151.66 C303.85,150.58 304.09,148.2 304.2,147.26 C304.3,146.32 304.54,144.35 304.65,143.59 C304.75,142.83 304.99,141.31 305.1,140.73 C305.2,140.15 305.44,139.02 305.55,138.59 C305.65,138.16 305.89,137.33 306,137.01 C306.1,136.69 306.34,136.08 306.45,135.83 C306.55,135.59 306.79,135.12 306.9,134.93 C307,134.75 307.24,134.38 307.35,134.23 C307.45,134.09 307.69,133.79 307.8,133.67 C307.9,133.55 308.14,133.3 308.25,133.2 C308.35,133.1 308.59,132.88 308.7,132.79 C308.8,132.7 309.04,132.51 309.15,132.43 C309.25,132.35 309.49,132.17 309.6,132.1 C309.7,132.03 309.94,131.87 310.05,131.8 C310.15,131.73 310.51,131.51 310.5,131.52 C310.49,131.52 309.43,132.14 310,131.83 C310.57,131.52 313.73,129.91 315.4,128.9 C317.07,127.89 321.81,124.94 324.3,123.2 C326.79,121.46 333.83,116.07 336.7,114 C339.57,111.93 347.48,106.49 348.9,105.5" fill="none" stroke="#1d5aa8" stroke-width="1.2" stroke-linejoin="round" stroke-linecap="round" />
<path d="M249.9,175.3 C255.23,175.3 290.21,175.3 295.6,175.3 C300.99,175.3 295.99,175.3 296.1,175.29 C296.21,175.29 296.44,175.29 296.55,175.29 C296.66,175.29 296.89,175.29 297,175.28 C297.11,175.28 297.34,175.27 297.45,175.27 C297.56,175.27 297.79,175.25 297.9,175.25 C298,175.24 298.24,175.22 298.35,175.21 C298.45,175.19 298.69,175.16 298.8,175.13 C298.9,175.11 299.14,175.05 299.25,175.01 C299.35,174.97 299.59,174.86 299.7,174.78 C299.8,174.71 300.04,174.52 300.15,174.4 C300.25,174.28 300.49,173.96 300.6,173.76 C300.7,173.55 300.94,173.01 301.05,172.68 C301.15,172.36 301.39,171.47 301.5,170.98 C301.6,170.49 301.84,169.15 301.95,168.45 C302.05,167.76 302.29,165.91 302.4,165.03 C302.5,164.15 302.74,161.9 302.85,160.92 C302.95,159.94 303.19,157.58 303.3,156.62 C303.4,155.67 303.64,153.54 303.75,152.71 C303.85,151.89 304.09,150.19 304.2,149.55 C304.3,148.9 304.54,147.65 304.65,147.18 C304.75,146.7 304.99,145.81 305.1,145.47 C305.2,145.13 305.44,144.49 305.55,144.24 C305.65,143.99 305.89,143.52 306,143.33 C306.1,143.14 306.34,142.78 306.45,142.64 C306.55,142.49 306.79,142.21 306.9,142.09 C307,141.97 307.24,141.73 307.35,141.62 C307.45,141.52 307.69,141.31 307.8,141.22 C307.9,141.13 308.14,140.94 308.25,140.85 C308.35,140.77 308.59,140.59 308.7,140.51 C308.8,140.44 309.04,140.26 309.15,140.19 C309.25,140.12 309.5,139.95 309.6,139.88 C309.7,139.81 309.32,140.01 310,139.61 C310.68,139.2 313.73,137.4 315.4,136.4 C317.07,135.4 321.81,132.37 324.3,131 C326.79,129.63 333.83,126.24 336.7,124.7 C339.57,123.16 347.48,118.61 348.9,117.8" fill="none" stroke="#b5188f" stroke-width="1.2" stroke-linejoin="round" stroke-linecap="round" />
<path d="M249.9,175.3 C255.23,175.3 290.21,175.3 295.6,175.3 C300.99,175.3 295.99,175.3 296.1,175.3 C296.21,175.3 296.44,175.29 296.55,175.29 C296.66,175.29 296.89,175.29 297,175.29 C297.11,175.29 297.34,175.28 297.45,175.28 C297.56,175.27 297.79,175.27 297.9,175.26 C298,175.26 298.24,175.24 298.35,175.23 C298.45,175.22 298.69,175.2 298.8,175.18 C298.9,175.16 299.14,175.12 299.25,175.09 C299.35,175.06 299.59,174.98 299.7,174.92 C299.8,174.87 300.04,174.73 300.15,174.65 C300.25,174.56 300.49,174.32 300.6,174.17 C300.7,174.02 300.94,173.62 301.05,173.39 C301.15,173.15 301.39,172.5 301.5,172.14 C301.6,171.78 301.84,170.79 301.95,170.28 C302.05,169.77 302.29,168.41 302.4,167.76 C302.5,167.12 302.74,165.46 302.85,164.74 C302.95,164.01 303.19,162.28 303.3,161.57 C303.4,160.86 303.64,159.29 303.75,158.68 C303.85,158.07 304.09,156.82 304.2,156.34 C304.3,155.86 304.54,154.93 304.65,154.57 C304.75,154.22 304.99,153.55 305.1,153.3 C305.2,153.04 305.44,152.56 305.55,152.37 C305.65,152.18 305.89,151.83 306,151.68 C306.1,151.54 306.34,151.27 306.45,151.16 C306.55,151.05 306.79,150.83 306.9,150.74 C307,150.65 307.24,150.46 307.35,150.39 C307.45,150.31 307.69,150.15 307.8,150.08 C307.9,150.01 308.14,149.86 308.25,149.8 C308.35,149.73 308.59,149.59 308.7,149.53 C308.8,149.47 309.04,149.34 309.15,149.28 C309.25,149.22 309.5,149.08 309.6,149.03 C309.7,148.97 309.32,149.16 310,148.8 C310.68,148.45 313.73,146.88 315.4,146 C317.07,145.12 321.81,142.68 324.3,141.3 C326.79,139.92 333.83,135.89 336.7,134.2 C339.57,132.51 347.48,127.66 348.9,126.8" fill="none" stroke="#d8482a" stroke-width="1.2" stroke-linejoin="round" stroke-linecap="round" />
<path d="M249.9,175.3 C255.23,175.3 290.21,175.3 295.6,175.3 C300.99,175.3 295.99,175.3 296.1,175.3 C296.21,175.3 296.44,175.29 296.55,175.29 C296.66,175.29 296.89,175.29 297,175.29 C297.11,175.28 297.34,175.28 297.45,175.28 C297.56,175.27 297.79,175.26 297.9,175.26 C298,175.25 298.24,175.23 298.35,175.22 C298.45,175.21 298.69,175.18 298.8,175.16 C298.9,175.14 299.14,175.08 299.25,175.04 C299.35,175 299.59,174.9 299.7,174.83 C299.8,174.77 300.04,174.58 300.15,174.47 C300.25,174.35 300.49,174.03 300.6,173.82 C300.7,173.62 300.94,173.07 301.05,172.74 C301.15,172.41 301.39,171.51 301.5,171 C301.6,170.49 301.84,169.11 301.95,168.4 C302.05,167.7 302.29,165.81 302.4,164.94 C302.5,164.07 302.74,161.86 302.85,160.92 C302.95,159.99 303.19,157.8 303.3,156.93 C303.4,156.07 303.64,154.21 303.75,153.51 C303.85,152.8 304.09,151.4 304.2,150.88 C304.3,150.35 304.54,149.37 304.65,149 C304.75,148.62 304.99,147.94 305.1,147.68 C305.2,147.41 305.44,146.92 305.55,146.73 C305.65,146.54 305.89,146.18 306,146.04 C306.1,145.9 306.34,145.62 306.45,145.5 C306.55,145.39 306.79,145.16 306.9,145.07 C307,144.97 307.24,144.77 307.35,144.69 C307.45,144.61 307.69,144.43 307.8,144.35 C307.9,144.28 308.14,144.11 308.25,144.04 C308.35,143.97 308.59,143.81 308.7,143.74 C308.8,143.67 309,143.55 309.15,143.45 C309.3,143.35 309.27,143.35 310,142.9 C310.73,142.45 313.73,140.62 315.4,139.6 C317.07,138.58 321.81,135.62 324.3,134.2 C326.79,132.78 333.83,129.01 336.7,127.4 C339.57,125.79 347.48,121.22 348.9,120.4" fill="none" stroke="#8a35a8" stroke-width="1.2" stroke-linejoin="round" stroke-linecap="round" />
</g>
<rect x="249.9" y="102.6" width="99" height="73" fill="none" stroke="#595350" stroke-width="0.75"/>
<line x1="274.65" y1="175.6" x2="274.65" y2="171" stroke="#595350" stroke-width="0.75"/>
<line x1="299.4" y1="175.6" x2="299.4" y2="171" stroke="#595350" stroke-width="0.75"/>
<line x1="324.15" y1="175.6" x2="324.15" y2="171" stroke="#595350" stroke-width="0.75"/>
<line x1="249.9" y1="139.2" x2="254.5" y2="139.2" stroke="#595350" stroke-width="0.75"/>
<text x="256.4" y="114.4" text-anchor="start" fill="#231815" style="font-size:10.2px;" textLength="79.4" lengthAdjust="spacingAndGlyphs">#1&#160;&#160;8.1 V (260 K)</text>
<line x1="263.1" y1="126.1" x2="272.70000000000005" y2="126.1" stroke="#b5188f" stroke-width="1.3"/>
<text x="274.90000000000003" y="129.7" fill="#b5188f" style="font-size:10.6px"><tspan style="font-style:italic">R</tspan><tspan dy="1.5" dx="-0.4" style="font-size:10.6px">12</tspan></text>
<line x1="263.1" y1="138.4" x2="272.70000000000005" y2="138.4" stroke="#8a35a8" stroke-width="1.3"/>
<text x="274.90000000000003" y="142" fill="#8a35a8" style="font-size:10.6px"><tspan style="font-style:italic">R</tspan><tspan dy="1.5" dx="-0.4" style="font-size:10.6px">23</tspan></text>
<line x1="263.1" y1="150.7" x2="272.70000000000005" y2="150.7" stroke="#1d5aa8" stroke-width="1.3"/>
<text x="274.90000000000003" y="154.3" fill="#1d5aa8" style="font-size:10.6px"><tspan style="font-style:italic">R</tspan><tspan dy="1.5" dx="-0.4" style="font-size:10.6px">45</tspan></text>
<line x1="263.1" y1="163.0" x2="272.70000000000005" y2="163.0" stroke="#d8482a" stroke-width="1.3"/>
<text x="274.90000000000003" y="166.6" fill="#d8482a" style="font-size:10.6px"><tspan style="font-style:italic">R</tspan><tspan dy="1.5" dx="-0.4" style="font-size:10.6px">56</tspan></text>
<text x="248.29999999999998" y="110.3" text-anchor="end" fill="#231815" style="font-size:14.5px;" >24</text>
<text x="248.29999999999998" y="144.4" text-anchor="end" fill="#231815" style="font-size:14.5px;" >12</text>
<text x="245.1" y="177.6" text-anchor="end" fill="#231815" style="font-size:14.5px;" >0</text>
<text transform="translate(225.6,139.4) rotate(-90)" fill="#231815" style="font-size:13.6px"><tspan x="-21.4" style="font-style:italic;font-size:14.3px">R</tspan><tspan x="-13.3" dy="2.9" style="font-size:11.8px">xx</tspan><tspan x="-0.2" dy="-2.9" style="letter-spacing:0.8px">(Ω)</tspan></text>
<text x="205.0" y="102.6" text-anchor="start" fill="#231815" style="font-size:14.3px;font-weight:bold;" >f</text>
<clipPath id="ci"><rect x="249.9" y="191.0" width="99.4" height="74.3"/></clipPath>
<g clip-path="url(#ci)">
<path d="M249.9,264.3 C250.75,264.3 254,264.45 255,264.3 C256,264.15 255.52,264.92 255.9,263.4 C256.28,261.88 256.72,258.3 257.3,255.2 C257.88,252.1 258.43,247.92 259.4,244.8 C260.37,241.68 261.58,238.92 263.1,236.5 C264.62,234.08 266.53,232.15 268.5,230.3 C270.47,228.45 271.72,227.47 274.9,225.4 C278.08,223.33 283.48,220.15 287.6,217.9 C291.72,215.65 295.53,213.92 299.6,211.9 C303.67,209.88 307.88,207.82 312,205.8 C316.12,203.78 320.18,201.77 324.3,199.8 C328.42,197.83 332.6,195.87 336.7,194 C340.8,192.13 346.87,189.5 348.9,188.6" fill="none" stroke="#1d5aa8" stroke-width="1.2" stroke-linejoin="round" stroke-linecap="round" />
<path d="M249.9,264.3 C250.82,264.3 254.33,264.45 255.4,264.3 C256.47,264.15 255.9,264.92 256.3,263.4 C256.7,261.88 257.2,257.8 257.8,255.2 C258.4,252.6 259.02,250.1 259.9,247.8 C260.78,245.5 261.67,243.53 263.1,241.4 C264.53,239.27 266.53,236.97 268.5,235 C270.47,233.03 271.72,231.73 274.9,229.6 C278.08,227.47 283.48,224.5 287.6,222.2 C291.72,219.9 295.53,217.85 299.6,215.8 C303.67,213.75 307.88,211.85 312,209.9 C316.12,207.95 320.18,206 324.3,204.1 C328.42,202.2 332.6,200.35 336.7,198.5 C340.8,196.65 346.87,193.92 348.9,193" fill="none" stroke="#b5188f" stroke-width="1.2" stroke-linejoin="round" stroke-linecap="round" />
</g>
<rect x="249.9" y="191.0" width="99" height="73.6" fill="none" stroke="#595350" stroke-width="0.75"/>
<line x1="274.65" y1="264.6" x2="274.65" y2="260" stroke="#595350" stroke-width="0.75"/>
<line x1="299.4" y1="264.6" x2="299.4" y2="260" stroke="#595350" stroke-width="0.75"/>
<line x1="324.15" y1="264.6" x2="324.15" y2="260" stroke="#595350" stroke-width="0.75"/>
<line x1="249.9" y1="227.7" x2="254.5" y2="227.7" stroke="#595350" stroke-width="0.75"/>
<text x="256" y="204.1" text-anchor="start" fill="#231815" style="font-size:10.2px;" >#2</text>
<text x="294.3" y="229.7" text-anchor="start" fill="#231815" style="font-size:10.2px;" textLength="52.6" lengthAdjust="spacingAndGlyphs">0 V (260 K)</text>
<line x1="294.4" y1="238.8" x2="304.0" y2="238.8" stroke="#b5188f" stroke-width="1.3"/>
<text x="306.2" y="242.4" fill="#b5188f" style="font-size:10.6px"><tspan style="font-style:italic">R</tspan><tspan dy="1.5" dx="-0.4" style="font-size:10.6px">12</tspan></text>
<line x1="294.4" y1="254.2" x2="304.0" y2="254.2" stroke="#1d5aa8" stroke-width="1.3"/>
<text x="306.2" y="257.8" fill="#1d5aa8" style="font-size:10.6px"><tspan style="font-style:italic">R</tspan><tspan dy="1.5" dx="-0.4" style="font-size:10.6px">45</tspan></text>
<text x="248.89999999999998" y="199.5" text-anchor="end" fill="#231815" style="font-size:14.5px;" >40</text>
<text x="248.7" y="232.7" text-anchor="end" fill="#231815" style="font-size:14.5px;" >20</text>
<text x="245.1" y="267.0" text-anchor="end" fill="#231815" style="font-size:14.5px;" >0</text>
<text transform="translate(225.6,227.7) rotate(-90)" fill="#231815" style="font-size:13.6px"><tspan x="-21.4" style="font-style:italic;font-size:14.3px">R</tspan><tspan x="-13.3" dy="2.9" style="font-size:11.8px">xx</tspan><tspan x="-0.2" dy="-2.9" style="letter-spacing:0.8px">(Ω)</tspan></text>
<text x="204.6" y="191.0" text-anchor="start" fill="#231815" style="font-size:14.3px;font-weight:bold;" >i</text>
<clipPath id="cl"><rect x="249.9" y="279.6" width="99.4" height="74.4"/></clipPath>
<g clip-path="url(#cl)">
<path d="M249.9,353 C255.47,353 291.98,353 297.6,353 C303.22,353 297.99,353 298.1,352.99 C298.21,352.99 298.44,352.99 298.55,352.99 C298.66,352.99 298.89,352.98 299,352.98 C299.11,352.98 299.34,352.97 299.45,352.97 C299.56,352.96 299.79,352.95 299.9,352.94 C300,352.93 300.24,352.9 300.35,352.88 C300.45,352.87 300.69,352.82 300.8,352.79 C300.9,352.76 301.14,352.67 301.25,352.61 C301.35,352.55 301.59,352.4 301.7,352.29 C301.8,352.19 302.04,351.9 302.15,351.72 C302.25,351.53 302.49,351.02 302.6,350.7 C302.7,350.38 302.94,349.5 303.05,348.98 C303.15,348.45 303.39,347 303.5,346.2 C303.6,345.39 303.84,343.19 303.95,342.08 C304.05,340.98 304.29,338.04 304.4,336.71 C304.5,335.38 304.74,332.07 304.85,330.71 C304.95,329.35 305.19,326.24 305.3,325.05 C305.4,323.85 305.64,321.38 305.75,320.46 C305.85,319.54 306.09,317.8 306.2,317.16 C306.3,316.51 306.54,315.36 306.65,314.93 C306.75,314.5 306.99,313.74 307.1,313.46 C307.2,313.17 307.44,312.66 307.55,312.47 C307.65,312.28 307.89,311.94 308,311.8 C308.1,311.67 308.34,311.43 308.45,311.33 C308.55,311.23 308.79,311.04 308.9,310.96 C309,310.88 309.24,310.72 309.35,310.65 C309.45,310.58 309.69,310.43 309.8,310.36 C309.9,310.3 310.14,310.14 310.25,310.07 C310.35,310.01 310.59,309.86 310.7,309.8 C310.8,309.73 311.23,309.48 311.15,309.53 C311.07,309.58 309.5,310.54 310,310.23 C310.5,309.93 313.73,308.11 315.4,306.9 C317.07,305.69 321.81,301.97 324.3,299.9 C326.79,297.83 334.06,291.55 336.7,289.2 C339.34,286.85 345.48,281.11 346.9,279.8 C348.32,278.49 348.67,278.21 348.9,278" fill="none" stroke="#1d5aa8" stroke-width="1.2" stroke-linejoin="round" stroke-linecap="round" />
<path d="M249.9,353 C255.47,353 291.98,353 297.6,353 C303.22,353 297.99,353 298.1,353 C298.21,353 298.44,353 298.55,353 C298.66,353 298.89,352.99 299,352.99 C299.11,352.99 299.34,352.99 299.45,352.98 C299.56,352.98 299.79,352.97 299.9,352.97 C300,352.96 300.24,352.95 300.35,352.94 C300.45,352.92 300.69,352.89 300.8,352.87 C300.9,352.84 301.14,352.78 301.25,352.73 C301.35,352.68 301.59,352.54 301.7,352.44 C301.8,352.35 302.04,352.07 302.15,351.88 C302.25,351.68 302.49,351.14 302.6,350.77 C302.7,350.4 302.94,349.36 303.05,348.72 C303.15,348.08 303.39,346.27 303.5,345.29 C303.6,344.31 303.84,341.6 303.95,340.36 C304.05,339.11 304.29,335.91 304.4,334.62 C304.5,333.33 304.74,330.42 304.85,329.34 C304.95,328.26 305.19,326.14 305.3,325.38 C305.4,324.61 305.64,323.28 305.75,322.79 C305.85,322.3 306.09,321.49 306.2,321.19 C306.3,320.89 306.54,320.39 306.65,320.19 C306.75,320 306.99,319.67 307.1,319.54 C307.2,319.42 307.44,319.18 307.55,319.09 C307.65,318.99 307.89,318.8 308,318.73 C308.1,318.65 308.34,318.49 308.45,318.42 C308.55,318.36 308.79,318.21 308.9,318.15 C309,318.08 309.24,317.95 309.35,317.88 C309.45,317.82 309.69,317.68 309.8,317.62 C309.9,317.56 310.23,317.37 310.25,317.36 C310.27,317.34 309.4,317.85 310,317.5 C310.6,317.16 313.73,315.51 315.4,314.4 C317.07,313.29 321.81,309.8 324.3,308 C326.79,306.2 333.83,301.19 336.7,299 C339.57,296.81 347.48,290.34 348.9,289.2" fill="none" stroke="#b5188f" stroke-width="1.2" stroke-linejoin="round" stroke-linecap="round" />
<path d="M249.9,353 C255.47,353 291.98,353 297.6,353 C303.22,353 297.99,353 298.1,353 C298.21,353 298.44,353 298.55,353 C298.66,353 298.89,353 299,352.99 C299.11,352.99 299.34,352.99 299.45,352.99 C299.56,352.99 299.79,352.98 299.9,352.98 C300,352.97 300.24,352.96 300.35,352.95 C300.45,352.94 300.69,352.92 300.8,352.9 C300.9,352.88 301.14,352.83 301.25,352.79 C301.35,352.76 301.59,352.65 301.7,352.58 C301.8,352.5 302.04,352.29 302.15,352.14 C302.25,351.99 302.49,351.58 302.6,351.29 C302.7,351.01 302.94,350.21 303.05,349.71 C303.15,349.22 303.39,347.81 303.5,347.05 C303.6,346.29 303.84,344.18 303.95,343.21 C304.05,342.24 304.29,339.72 304.4,338.71 C304.5,337.7 304.74,335.39 304.85,334.53 C304.95,333.68 305.19,331.98 305.3,331.36 C305.4,330.75 305.64,329.66 305.75,329.25 C305.85,328.85 306.09,328.17 306.2,327.91 C306.3,327.66 306.54,327.21 306.65,327.04 C306.75,326.87 306.99,326.57 307.1,326.45 C307.2,326.33 307.44,326.1 307.55,326.01 C307.65,325.92 307.89,325.73 308,325.65 C308.1,325.57 308.34,325.41 308.45,325.34 C308.55,325.27 308.79,325.12 308.9,325.06 C309,324.99 309.24,324.85 309.35,324.79 C309.45,324.72 309.69,324.58 309.8,324.52 C309.9,324.46 310.23,324.27 310.25,324.26 C310.27,324.24 309.4,324.74 310,324.4 C310.6,324.07 313.73,322.5 315.4,321.4 C317.07,320.3 321.81,316.81 324.3,315 C326.79,313.19 333.83,308.04 336.7,305.9 C339.57,303.76 347.48,297.77 348.9,296.7" fill="none" stroke="#d8482a" stroke-width="1.2" stroke-linejoin="round" stroke-linecap="round" />
<path d="M249.9,353 C255.47,353 291.98,353 297.6,353 C303.22,353 297.99,353 298.1,353 C298.21,353 298.44,353 298.55,353 C298.66,353 298.89,353 299,352.99 C299.11,352.99 299.34,352.99 299.45,352.99 C299.56,352.99 299.79,352.98 299.9,352.98 C300,352.97 300.24,352.96 300.35,352.95 C300.45,352.95 300.69,352.92 300.8,352.91 C300.9,352.89 301.14,352.84 301.25,352.81 C301.35,352.77 301.59,352.68 301.7,352.6 C301.8,352.53 302.04,352.34 302.15,352.19 C302.25,352.05 302.49,351.66 302.6,351.39 C302.7,351.13 302.94,350.37 303.05,349.91 C303.15,349.44 303.39,348.11 303.5,347.4 C303.6,346.68 303.84,344.7 303.95,343.78 C304.05,342.86 304.29,340.49 304.4,339.54 C304.5,338.58 304.74,336.41 304.85,335.6 C304.95,334.79 305.19,333.19 305.3,332.61 C305.4,332.03 305.64,331 305.75,330.62 C305.85,330.23 306.09,329.59 306.2,329.35 C306.3,329.1 306.54,328.68 306.65,328.52 C306.75,328.36 306.99,328.07 307.1,327.96 C307.2,327.85 307.44,327.63 307.55,327.54 C307.65,327.46 307.89,327.28 308,327.21 C308.1,327.13 308.34,326.98 308.45,326.91 C308.55,326.85 308.79,326.71 308.9,326.64 C309,326.58 309.24,326.44 309.35,326.38 C309.45,326.32 309.69,326.18 309.8,326.12 C309.9,326.06 310.23,325.87 310.25,325.86 C310.27,325.84 309.4,326.35 310,326 C310.6,325.66 313.73,323.96 315.4,322.9 C317.07,321.84 321.81,318.64 324.3,316.9 C326.79,315.16 333.83,310.11 336.7,308 C339.57,305.89 347.48,299.87 348.9,298.8" fill="none" stroke="#8a35a8" stroke-width="1.2" stroke-linejoin="round" stroke-linecap="round" />
</g>
<rect x="249.9" y="279.6" width="99" height="73.7" fill="none" stroke="#595350" stroke-width="0.75"/>
<line x1="274.65" y1="353.3" x2="274.65" y2="348.7" stroke="#595350" stroke-width="0.75"/>
<line x1="299.4" y1="353.3" x2="299.4" y2="348.7" stroke="#595350" stroke-width="0.75"/>
<line x1="324.15" y1="353.3" x2="324.15" y2="348.7" stroke="#595350" stroke-width="0.75"/>
<line x1="249.9" y1="316.1" x2="254.5" y2="316.1" stroke="#595350" stroke-width="0.75"/>
<text x="256" y="292.6" text-anchor="start" fill="#231815" style="font-size:10.2px;" textLength="79.4" lengthAdjust="spacingAndGlyphs">#3&#160;&#160;7.6 V (260 K)</text>
<line x1="263.1" y1="304.1" x2="272.70000000000005" y2="304.1" stroke="#b5188f" stroke-width="1.3"/>
<text x="274.90000000000003" y="307.7" fill="#b5188f" style="font-size:10.6px"><tspan style="font-style:italic">R</tspan><tspan dy="1.5" dx="-0.4" style="font-size:10.6px">12</tspan></text>
<line x1="263.1" y1="316.4" x2="272.70000000000005" y2="316.4" stroke="#8a35a8" stroke-width="1.3"/>
<text x="274.90000000000003" y="320" fill="#8a35a8" style="font-size:10.6px"><tspan style="font-style:italic">R</tspan><tspan dy="1.5" dx="-0.4" style="font-size:10.6px">23</tspan></text>
<line x1="263.1" y1="328.7" x2="272.70000000000005" y2="328.7" stroke="#1d5aa8" stroke-width="1.3"/>
<text x="274.90000000000003" y="332.3" fill="#1d5aa8" style="font-size:10.6px"><tspan style="font-style:italic">R</tspan><tspan dy="1.5" dx="-0.4" style="font-size:10.6px">45</tspan></text>
<line x1="263.1" y1="341.0" x2="272.70000000000005" y2="341.0" stroke="#d8482a" stroke-width="1.3"/>
<text x="274.90000000000003" y="344.6" fill="#d8482a" style="font-size:10.6px"><tspan style="font-style:italic">R</tspan><tspan dy="1.5" dx="-0.4" style="font-size:10.6px">56</tspan></text>
<text x="248.89999999999998" y="288.8" text-anchor="end" fill="#231815" style="font-size:14.5px;" >20</text>
<text x="248.7" y="321.2" text-anchor="end" fill="#231815" style="font-size:14.5px;" >10</text>
<text x="245.1" y="358.9" text-anchor="end" fill="#231815" style="font-size:14.5px;" >0</text>
<text transform="translate(225.6,316.3) rotate(-90)" fill="#231815" style="font-size:13.6px"><tspan x="-21.4" style="font-style:italic;font-size:14.3px">R</tspan><tspan x="-13.3" dy="2.9" style="font-size:11.8px">xx</tspan><tspan x="-0.2" dy="-2.9" style="letter-spacing:0.8px">(Ω)</tspan></text>
<text x="205.0" y="279.7" text-anchor="start" fill="#231815" style="font-size:14.3px;font-weight:bold;" >l</text>
<text x="249.9" y="368.4" text-anchor="middle" fill="#231815" style="font-size:14.5px;" >0</text>
<text x="274.65" y="368.4" text-anchor="middle" fill="#231815" style="font-size:14.5px;" >20</text>
<text x="299.4" y="368.4" text-anchor="middle" fill="#231815" style="font-size:14.5px;" >40</text>
<text x="324.15" y="368.4" text-anchor="middle" fill="#231815" style="font-size:14.5px;" >60</text>
<text x="348.9" y="368.4" text-anchor="middle" fill="#231815" style="font-size:14.5px;" >80</text>
<text x="299.6" y="382.1" text-anchor="middle" fill="#231815" style="font-size:13.6px"><tspan style="font-style:italic">T</tspan> (K)</text>
<clipPath id="cd"><rect x="417.8" y="13.4" width="99.2" height="74.5"/></clipPath>
<g clip-path="url(#cd)">
<path d="M417.8,83.07 L419.05,82.4 L420.3,81.48 L421.55,80.78 L422.8,79.96 L424.05,78.86 L425.3,78 L426.55,77.59 L427.81,76.48 L429.06,75.64 L430.31,75.19 L431.56,74.11 L432.81,73.46 L434.06,72.46 L435.31,71.72 L436.56,70.65 L437.81,70.06 L439.06,69.35 L440.31,68.36 L441.56,67.64 L442.81,66.78 L444.06,65.65 L445.31,65.17 L446.56,64.26 L447.82,63.29 L449.07,62.33 L450.32,61.92 L451.57,60.9 L452.82,60.2 L454.07,59.46 L455.32,58.55 L456.57,57.83 L457.82,56.74 L459.07,56.12 L460.32,55.11 L461.57,54.53 L462.82,53.68 L464.07,52.46 L465.32,51.66 L466.57,50.87 L467.83,50.42 L469.08,49.33 L470.33,48.6 L471.58,47.61 L472.83,46.89 L474.08,46 L475.33,45.16 L476.58,44.45 L477.83,43.63 L479.08,42.96 L480.33,42.03 L481.58,41.32 L482.83,40.46 L484.08,39.7 L485.33,38.72 L486.58,37.64 L487.84,37.16 L489.09,36.39 L490.34,35.53 L491.59,34.54 L492.84,33.79 L494.09,32.71 L495.34,32.2 L496.59,31.24 L497.84,30.27 L499.09,29.34 L500.34,28.91 L501.59,28.15 L502.84,26.87 L504.09,26.4 L505.34,25.38 L506.59,24.43 L507.85,23.67 L509.1,23.09 L510.35,22.31 L511.6,21.07 L512.85,20.53 L514.1,19.42 L515.35,18.93 L516.6,17.92" fill="none" stroke="#0f47a1" stroke-width="1.7" stroke-linejoin="round" stroke-linecap="round" />
</g>
<rect x="417.8" y="13.4" width="98.8" height="73.8" fill="none" stroke="#595350" stroke-width="0.75"/>
<line x1="442.5" y1="87.2" x2="442.5" y2="82.6" stroke="#595350" stroke-width="0.75"/>
<line x1="467.2" y1="87.2" x2="467.2" y2="82.6" stroke="#595350" stroke-width="0.75"/>
<line x1="491.9" y1="87.2" x2="491.9" y2="82.6" stroke="#595350" stroke-width="0.75"/>
<line x1="417.8" y1="50.2" x2="422.4" y2="50.2" stroke="#595350" stroke-width="0.75"/>
<text x="431.4" y="26.1" text-anchor="start" fill="#231815" style="font-size:10.2px;" >#0</text>
<text x="483" y="77.7" text-anchor="start" fill="#0f47a1" style="font-size:10.2px;" >50 K</text>
<text x="412.5" y="16.9" text-anchor="end" fill="#231815" style="font-size:14.5px;" >1</text>
<text x="412.3" y="55.8" text-anchor="end" fill="#231815" style="font-size:14.5px;" >0</text>
<text x="412.59999999999997" y="91.3" text-anchor="end" fill="#231815" style="font-size:14.5px;" >-1</text>
<text transform="translate(395.7,46.4) rotate(-90)" fill="#231815" style="font-size:14.1px"><tspan x="-23.2" style="font-style:italic;font-size:15px">R</tspan><tspan x="-12.3" dy="2.0" style="font-size:11.2px">xy</tspan><tspan x="-12.0" dy="-8.2" style="font-size:11px">25</tspan><tspan x="3.0" dy="6.2">(Ω)</tspan></text>
<text x="370.8" y="9.0" text-anchor="start" fill="#231815" style="font-size:14.3px;font-weight:bold;" >d</text>
<clipPath id="cg"><rect x="417.8" y="102.6" width="99.2" height="73.7"/></clipPath>
<g clip-path="url(#cg)">
<path d="M417.9,104.7 C419.46,106.05 427,112.52 429.6,114.8 C432.2,117.08 435.32,119.97 437.4,121.8 C439.48,123.63 443.12,126.73 445.2,128.5 C447.28,130.27 450.92,133.33 453,135.1 C455.08,136.87 458.85,140.16 460.8,141.8 C462.75,143.44 466.52,146.89 467.6,147.4 C468.68,147.91 468.58,146.43 468.9,145.6 C469.22,144.77 469.59,141.99 470,141.2 C470.41,140.41 471.4,139.73 472,139.7 C472.6,139.67 473.75,140.47 474.5,141 C475.25,141.53 476.15,142.61 477.6,143.7 C479.05,144.79 483.32,147.69 485.4,149.2 C487.48,150.71 491.55,153.87 493.2,155 C494.85,156.13 496.76,157.02 497.8,157.7 C498.84,158.38 499.53,158.95 501,160.1 C502.47,161.25 506.72,164.59 508.8,166.3 C510.88,168.01 515.56,172.02 516.6,172.9" fill="none" stroke="#0f47a1" stroke-width="1.3" stroke-linejoin="round" stroke-linecap="round" />
<path d="M417.9,104.7 C419.46,106.05 427,112.52 429.6,114.8 C432.2,117.08 435.32,119.99 437.4,121.8 C439.48,123.61 443.12,126.85 445.2,128.4 C447.28,129.95 451.13,132.23 453,133.4 C454.87,134.57 457.92,136.51 459.2,137.2 C460.48,137.89 461.91,138.55 462.6,138.6 C463.29,138.65 464.01,138.4 464.4,137.6 C464.79,136.8 465.21,133.59 465.5,132.6 C465.79,131.61 466.24,130.39 466.6,130.2 C466.96,130.01 466.73,129.92 468.2,131.2 C469.67,132.48 475.31,137.72 477.6,139.8 C479.89,141.88 483.32,144.93 485.4,146.8 C487.48,148.67 491.12,152.03 493.2,153.8 C495.28,155.57 498.92,158.43 501,160.1 C503.08,161.77 506.72,164.59 508.8,166.3 C510.88,168.01 515.56,172.02 516.6,172.9" fill="none" stroke="#0f47a1" stroke-width="1.3" stroke-linejoin="round" stroke-linecap="round" />
<path d="M417.9,132.7 C419.46,133.54 427,137.71 429.6,139 C432.2,140.29 435.32,141.6 437.4,142.4 C439.48,143.2 443.12,144.57 445.2,145 C447.28,145.43 451.13,145.57 453,145.6 C454.87,145.63 457.96,145.47 459.2,145.2 C460.44,144.93 461.66,144.4 462.3,143.6 C462.94,142.8 463.61,140.8 464,139.2 C464.39,137.6 464.85,133.15 465.2,131.6 C465.55,130.05 466.16,128.28 466.6,127.6 C467.04,126.92 467.86,126.63 468.5,126.5 C469.14,126.37 470.19,126.28 471.4,126.6 C472.61,126.92 475.73,128.22 477.6,128.9 C479.47,129.58 483.32,130.97 485.4,131.7 C487.48,132.43 491.12,133.57 493.2,134.4 C495.28,135.23 498.92,136.93 501,137.9 C503.08,138.87 506.72,140.66 508.8,141.7 C510.88,142.74 515.56,145.17 516.6,145.7" fill="none" stroke="#b5188f" stroke-width="1.4" stroke-linejoin="round" stroke-linecap="round" />
<path d="M417.9,132.7 C419.46,133.54 427,137.68 429.6,139 C432.2,140.32 435.32,141.72 437.4,142.6 C439.48,143.48 443.12,144.93 445.2,145.6 C447.28,146.27 450.92,146.93 453,147.6 C455.08,148.27 458.99,150.04 460.8,150.6 C462.61,151.16 465.6,151.8 466.6,151.8 C467.6,151.8 467.9,151.56 468.3,150.6 C468.7,149.64 469.28,146.2 469.6,144.6 C469.92,143 470.33,139.93 470.7,138.6 C471.07,137.27 471.83,135.36 472.4,134.6 C472.97,133.84 474.05,133.22 475,132.9 C475.95,132.58 478.37,132.25 479.5,132.2 C480.63,132.15 482.37,132.33 483.5,132.5 C484.63,132.67 486.71,133.18 488,133.5 C489.29,133.82 491.47,134.31 493.2,134.9 C494.93,135.49 498.92,136.99 501,137.9 C503.08,138.81 506.72,140.66 508.8,141.7 C510.88,142.74 515.56,145.17 516.6,145.7" fill="none" stroke="#b5188f" stroke-width="1.4" stroke-linejoin="round" stroke-linecap="round" />
</g>
<rect x="417.8" y="102.6" width="98.8" height="73" fill="none" stroke="#595350" stroke-width="0.75"/>
<line x1="442.5" y1="175.6" x2="442.5" y2="171" stroke="#595350" stroke-width="0.75"/>
<line x1="467.2" y1="175.6" x2="467.2" y2="171" stroke="#595350" stroke-width="0.75"/>
<line x1="491.9" y1="175.6" x2="491.9" y2="171" stroke="#595350" stroke-width="0.75"/>
<line x1="417.8" y1="139.2" x2="422.4" y2="139.2" stroke="#595350" stroke-width="0.75"/>
<text x="432.2" y="115.1" text-anchor="start" fill="#231815" style="font-size:10.2px;" >#1</text>
<text x="484.4" y="124.7" text-anchor="start" fill="#b5188f" style="font-size:10.2px;" >100 K</text>
<text x="481.8" y="170.5" text-anchor="start" fill="#0f47a1" style="font-size:10.2px;" >50 K</text>
<line x1="487.7" y1="126.1" x2="478.44" y2="123.92" stroke="#b5188f" stroke-width="1.25"/>
<polygon points="472.4,122.5 479.05,121.29 477.82,126.55" fill="#b5188f"/>
<line x1="445.2" y1="151.1" x2="456.39" y2="153.96" stroke="#b5188f" stroke-width="1.25"/>
<polygon points="462.4,155.5 455.72,156.58 457.06,151.35" fill="#b5188f"/>
<text x="415.59999999999997" y="107.8" text-anchor="end" fill="#231815" style="font-size:14.5px;" >0.5</text>
<text x="411.7" y="146.5" text-anchor="end" fill="#231815" style="font-size:14.5px;" >0</text>
<text x="415.59999999999997" y="180.5" text-anchor="end" fill="#231815" style="font-size:14.5px;" >-0.5</text>
<text transform="translate(395.7,139.1) rotate(-90)" fill="#231815" style="font-size:14.1px"><tspan x="-23.2" style="font-style:italic;font-size:15px">R</tspan><tspan x="-12.3" dy="2.0" style="font-size:11.2px">xy</tspan><tspan x="-12.0" dy="-8.2" style="font-size:11px">25</tspan><tspan x="3.0" dy="6.2">(Ω)</tspan></text>
<text x="370.8" y="102.3" text-anchor="start" fill="#231815" style="font-size:14.3px;font-weight:bold;" >g</text>
<clipPath id="cj"><rect x="417.8" y="191.0" width="99.2" height="74.3"/></clipPath>
<g clip-path="url(#cj)">
<path d="M417.8,263.5 L516.6,191.6" fill="none" stroke="#0f47a1" stroke-width="1.35" stroke-linejoin="round" stroke-linecap="round" />
</g>
<rect x="417.8" y="191.0" width="98.8" height="73.6" fill="none" stroke="#595350" stroke-width="0.75"/>
<line x1="442.5" y1="264.6" x2="442.5" y2="260" stroke="#595350" stroke-width="0.75"/>
<line x1="467.2" y1="264.6" x2="467.2" y2="260" stroke="#595350" stroke-width="0.75"/>
<line x1="491.9" y1="264.6" x2="491.9" y2="260" stroke="#595350" stroke-width="0.75"/>
<line x1="417.8" y1="227.5" x2="422.4" y2="227.5" stroke="#595350" stroke-width="0.75"/>
<text x="431.4" y="205.1" text-anchor="start" fill="#231815" style="font-size:10.2px;" >#2</text>
<text x="484" y="254.8" text-anchor="start" fill="#0f47a1" style="font-size:10.2px;" >50 K</text>
<text x="412.5" y="197.2" text-anchor="end" fill="#231815" style="font-size:14.5px;" >1</text>
<text x="412.3" y="233.2" text-anchor="end" fill="#231815" style="font-size:14.5px;" >0</text>
<text x="412.59999999999997" y="268.6" text-anchor="end" fill="#231815" style="font-size:14.5px;" >-1</text>
<text transform="translate(395.7,227.8) rotate(-90)" fill="#231815" style="font-size:14.1px"><tspan x="-23.2" style="font-style:italic;font-size:15px">R</tspan><tspan x="-12.3" dy="2.0" style="font-size:11.2px">xy</tspan><tspan x="-12.0" dy="-8.2" style="font-size:11px">25</tspan><tspan x="3.0" dy="6.2">(Ω)</tspan></text>
<text x="373.4" y="190.7" text-anchor="start" fill="#231815" style="font-size:14.3px;font-weight:bold;" >j</text>
<clipPath id="cm"><rect x="417.8" y="279.6" width="99.2" height="74.4"/></clipPath>
<g clip-path="url(#cm)">
<path d="M418,294.8 L440,307.3 L453,314.7 L463.4,320.8 L464.4,321.2 L465.4,315 L466.4,309 L467.4,308.9 L473.8,313.4 L492,324.5 L500,329.7 L516.6,338.9" fill="none" stroke="#0f47a1" stroke-width="1.45" stroke-linejoin="round" stroke-linecap="round" />
<path d="M418,294.8 L440,307.3 L453,314.7 L463.4,320.8 L468.2,323.8 L469.2,318 L470.3,311.3 L471.4,311.6 L473.8,313.4 L492,324.5 L500,329.7 L516.6,338.9" fill="none" stroke="#0f47a1" stroke-width="1.45" stroke-linejoin="round" stroke-linecap="round" />
<path d="M418,318.2 C419.28,318.45 431.57,320.85 433.4,321.2 C435.23,321.55 438.37,322.19 440,322.4 C441.63,322.61 451.17,323.58 453,323.7 C454.83,323.82 461.07,323.86 462,323.8 C462.93,323.74 463.93,323.82 464.2,323 C464.47,322.18 465.12,315.38 465.3,314 C465.48,312.62 466.17,307.04 466.4,306.4 C466.62,305.76 466.95,306.15 468,306.3 C469.05,306.45 476.33,307.72 479,308.2 C481.67,308.68 496.87,311.5 500,312.1 C503.13,312.7 515.22,315.12 516.6,315.4" fill="none" stroke="#b5188f" stroke-width="1.4" stroke-linejoin="round" stroke-linecap="round" />
<path d="M418,318.2 C419.28,318.45 431.57,320.83 433.4,321.2 C435.23,321.57 438.37,322.32 440,322.6 C441.63,322.88 451.17,324.33 453,324.6 C454.83,324.87 460.73,325.64 462,325.8 C463.27,325.96 467.58,327.15 468.2,326.5 C468.82,325.85 469.21,319.4 469.4,318 C469.59,316.6 470.28,310.43 470.5,309.7 C470.72,308.97 470.96,309.33 472,309.3 C473.04,309.27 480.67,309.07 483,309.3 C485.33,309.53 497.2,311.59 500,312.1 C502.8,312.61 515.22,315.12 516.6,315.4" fill="none" stroke="#b5188f" stroke-width="1.4" stroke-linejoin="round" stroke-linecap="round" />
</g>
<rect x="417.8" y="279.6" width="98.8" height="73.7" fill="none" stroke="#595350" stroke-width="0.75"/>
<line x1="442.5" y1="353.3" x2="442.5" y2="348.7" stroke="#595350" stroke-width="0.75"/>
<line x1="467.2" y1="353.3" x2="467.2" y2="348.7" stroke="#595350" stroke-width="0.75"/>
<line x1="491.9" y1="353.3" x2="491.9" y2="348.7" stroke="#595350" stroke-width="0.75"/>
<line x1="417.8" y1="316.6" x2="422.4" y2="316.6" stroke="#595350" stroke-width="0.75"/>
<text x="431.4" y="294.1" text-anchor="start" fill="#231815" style="font-size:10.2px;" >#3</text>
<text x="485.5" y="306.9" text-anchor="start" fill="#b5188f" style="font-size:10.2px;" >100 K</text>
<text x="486.5" y="347.4" text-anchor="start" fill="#0f47a1" style="font-size:10.2px;" >50 K</text>
<line x1="484.8" y1="303.9" x2="473.71" y2="302.03" stroke="#b5188f" stroke-width="1.25"/>
<polygon points="467.6,301 474.16,299.37 473.26,304.69" fill="#b5188f"/>
<line x1="450.4" y1="329.7" x2="460.79" y2="331.53" stroke="#b5188f" stroke-width="1.25"/>
<polygon points="466.9,332.6 460.33,334.19 461.26,328.87" fill="#b5188f"/>
<text x="415.59999999999997" y="284.8" text-anchor="end" fill="#231815" style="font-size:14.5px;" >0.5</text>
<text x="411.7" y="321.8" text-anchor="end" fill="#231815" style="font-size:14.5px;" >0</text>
<text x="415.59999999999997" y="358.2" text-anchor="end" fill="#231815" style="font-size:14.5px;" >-0.5</text>
<text transform="translate(395.7,316.3) rotate(-90)" fill="#231815" style="font-size:14.1px"><tspan x="-23.2" style="font-style:italic;font-size:15px">R</tspan><tspan x="-12.3" dy="2.0" style="font-size:11.2px">xy</tspan><tspan x="-12.0" dy="-8.2" style="font-size:11px">25</tspan><tspan x="3.0" dy="6.2">(Ω)</tspan></text>
<text x="368.8" y="279.7" text-anchor="start" fill="#231815" style="font-size:14.3px;font-weight:bold;" >m</text>
<text x="442.7" y="368.5" text-anchor="middle" fill="#231815" style="font-size:14.5px;" >-2</text>
<text x="467.2" y="368.5" text-anchor="middle" fill="#231815" style="font-size:14.5px;" >0</text>
<text x="491.9" y="368.5" text-anchor="middle" fill="#231815" style="font-size:14.5px;" >2</text>
<text x="467.5" y="382.1" text-anchor="middle" fill="#231815" style="font-size:13.6px"><tspan style="font-style:italic">B</tspan> (T)</text>
<clipPath id="ce"><rect x="585.8" y="13.4" width="99.1" height="74.5"/></clipPath>
<g clip-path="url(#ce)">
<path d="M585.8,14.46 L586.32,15.21 L586.85,17.57 L587.37,16.52 L587.89,18.71 L588.41,18.3 L588.94,21.62 L589.46,22.45 L589.98,24.31 L590.5,24 L591.03,25.36 L591.55,25.85 L592.07,26.31 L592.6,27.81 L593.12,27.73 L593.64,29.11 L594.16,30.96 L594.69,31.58 L595.21,32.03 L595.73,34.88 L596.26,34.54 L596.78,34.59 L597.3,35.84 L597.82,36.25 L598.35,37.09 L598.87,37.94 L599.39,40.67 L599.91,40.34 L600.44,40.97 L600.96,42.11 L601.48,44.03 L602.01,43.27 L602.53,43.31 L603.05,46.33 L603.57,44.47 L604.1,45.4 L604.62,46.97 L605.14,49.16 L605.66,47.62 L606.19,46.53 L606.71,49.21 L607.23,49.4 L607.76,50.01 L608.28,51.29 L608.8,51.86 L609.32,52.48 L609.85,52.48 L610.37,54.26 L610.89,55.28 L611.41,54.74 L611.94,54.59 L612.46,55.87 L612.98,56.34 L613.51,55.59 L614.03,56.2 L614.55,57.9 L615.07,57.73 L615.6,57.81 L616.12,58.58 L616.64,58.87 L617.17,59.26 L617.69,58.11 L618.21,61.05 L618.73,60.82 L619.26,60.18 L619.78,61.77 L620.3,61.89 L620.82,61.94 L621.35,63.03 L621.87,64.51 L622.39,63.75 L622.92,64.61 L623.44,65.5 L623.96,63.38 L624.48,63.45 L625.01,64.69 L625.53,63.19 L626.05,64.14 L626.57,65.78 L627.1,66.13 L627.62,65.99 L628.14,64.09 L628.67,67.13 L629.19,66.56 L629.71,66.68 L630.23,66.58 L630.76,64.87 L631.28,64.73 L631.8,64.93 L632.32,67.53 L632.85,66.03 L633.37,66.15 L633.89,66.19 L634.42,66.88 L634.94,67 L635.46,66.84 L635.98,65.56 L636.51,63.72 L637.03,65.87 L637.55,66.44 L638.08,67.31 L638.6,66.4 L639.12,65.69 L639.64,66.26 L640.17,64.74 L640.69,64.67 L641.21,64.58 L641.73,65.48 L642.26,67.03 L642.78,66.22 L643.3,66.19 L643.83,65.31 L644.35,64.97 L644.87,64.15 L645.39,63.91 L645.92,61.96 L646.44,62.27 L646.96,62.09 L647.48,63.55 L648.01,63.56 L648.53,63.73 L649.05,63.88 L649.58,62.19 L650.1,62.6 L650.62,63.17 L651.14,61.47 L651.67,61.63 L652.19,60.37 L652.71,58.59 L653.23,59.21 L653.76,58.27 L654.28,58.42 L654.8,57.64 L655.33,57.69 L655.85,55.35 L656.37,57.75 L656.89,57.36 L657.42,55.48 L657.94,54.15 L658.46,54.12 L658.99,54.22 L659.51,53.61 L660.03,53.01 L660.55,50.52 L661.08,50.13 L661.6,51.57 L662.12,50.6 L662.64,48.49 L663.17,48.03 L663.69,46.99 L664.21,46.6 L664.74,47.79 L665.26,46.48 L665.78,46.75 L666.3,45.57 L666.83,43.41 L667.35,43.06 L667.87,44.84 L668.39,42.28 L668.92,40.89 L669.44,41.86 L669.96,40.63 L670.49,39.69 L671.01,40.1 L671.53,37 L672.05,37.43 L672.58,35.75 L673.1,34.46 L673.62,34.03 L674.14,34.92 L674.67,33.49 L675.19,31.14 L675.71,30.53 L676.24,31.91 L676.76,31.23 L677.28,28.72 L677.8,30.34 L678.33,27.83 L678.85,25.89 L679.37,25.62 L679.9,25.77 L680.42,25.69 L680.94,24.52 L681.46,22.36 L681.99,21.03 L682.51,19.29 L683.03,19.3 L683.55,18.2 L684.08,17.95 L684.6,15.98" fill="none" stroke="#0f47a1" stroke-width="1.8" stroke-linejoin="round" stroke-linecap="round" />
</g>
<rect x="585.8" y="13.4" width="98.7" height="73.8" fill="none" stroke="#595350" stroke-width="0.75"/>
<line x1="610.47" y1="87.2" x2="610.47" y2="82.6" stroke="#595350" stroke-width="0.75"/>
<line x1="635.15" y1="87.2" x2="635.15" y2="82.6" stroke="#595350" stroke-width="0.75"/>
<line x1="659.83" y1="87.2" x2="659.83" y2="82.6" stroke="#595350" stroke-width="0.75"/>
<line x1="585.8" y1="31.8" x2="590.4" y2="31.8" stroke="#595350" stroke-width="0.75"/>
<line x1="585.8" y1="50.1" x2="590.4" y2="50.1" stroke="#595350" stroke-width="0.75"/>
<line x1="585.8" y1="68.7" x2="590.4" y2="68.7" stroke="#595350" stroke-width="0.75"/>
<text x="598.4" y="26.5" text-anchor="start" fill="#231815" style="font-size:10.2px;" >#0</text>
<text x="610" y="50.9" text-anchor="start" fill="#0f47a1" style="font-size:10.2px;" >×10</text>
<text x="660.7" y="77.6" text-anchor="start" fill="#0f47a1" style="font-size:10.2px;" >50 K</text>
<text x="581.5" y="37.5" text-anchor="end" fill="#231815" style="font-size:14.5px;" >4</text>
<text x="581.5" y="74.3" text-anchor="end" fill="#231815" style="font-size:14.5px;" >0</text>
<text transform="translate(565.9,73.1) rotate(-90)" fill="#231815" style="font-size:14px"><tspan x="-0.6" style="font-style:italic">MR</tspan><tspan x="19.6" dy="2.9" style="font-size:11px">45</tspan><tspan x="37.2" dy="-2.9" style="font-size:14.4px">(%)</tspan></text>
<text x="540.6" y="8.6" text-anchor="start" fill="#231815" style="font-size:14.3px;font-weight:bold;" >e</text>
<clipPath id="ch"><rect x="585.8" y="102.6" width="99.1" height="73.7"/></clipPath>
<g clip-path="url(#ch)">
<path d="M585.8,116.33 L586.63,117.39 L587.46,118.48 L588.29,119.13 L589.12,119.7 L589.95,120.68 L590.78,121.7 L591.61,122.74 L592.44,123.13 L593.27,123.67 L594.1,124.76 L594.93,125.62 L595.76,126.65 L596.59,127.4 L597.42,127.88 L598.25,128.41 L599.08,129.62 L599.91,129.88 L600.74,130.18 L601.57,130.49 L602.41,131.1 L603.24,131.57 L604.07,131.82 L604.9,132.13 L605.73,132.48 L606.56,132.88 L607.39,133.31 L608.22,133.5 L609.05,133.31 L609.88,133.92 L610.71,133.91 L611.54,134.32 L612.37,134.37 L613.2,134.85 L614.03,135.03 L614.86,135.44 L615.69,136.42 L616.52,136.27 L617.35,136.47 L618.18,136.18 L619.01,136.36 L619.84,136.75 L620.67,136.89 L621.5,137.17 L622.33,137.39 L623.16,137.39 L623.99,137.87 L624.82,137.95 L625.65,138.73 L626.48,138.76 L627.31,139.21 L628.14,139.48 L628.97,140.03 L629.8,140.19 L630.63,140.99 L631.46,141.8 L632.29,143.44 L633.12,145.49 L633.95,146.24 L634.78,146.45 L635.62,146.7 L636.45,146.56 L637.28,146.54 L638.11,145.87 L638.94,145.54 L639.77,145.17 L640.6,144.8 L641.43,144.49 L642.26,144.2 L643.09,143.76 L643.92,143.33 L644.75,143.13 L645.58,143.12 L646.41,143.2 L647.24,142.99 L648.07,142.77 L648.9,142.46 L649.73,142.17 L650.56,141.79 L651.39,141.6 L652.22,141.6 L653.05,141 L653.88,140.48 L654.71,140.66 L655.54,140.21 L656.37,139.97 L657.2,139.66 L658.03,138.89 L658.86,139.11 L659.69,138.9 L660.52,138.25 L661.35,137.85 L662.18,137.29 L663.01,136.55 L663.84,136.1 L664.67,135.7 L665.5,135.36 L666.33,134.77 L667.16,133.99 L667.99,133.52 L668.83,132.45 L669.66,131.87 L670.49,131.25 L671.32,130.23 L672.15,128.98 L672.98,128.14 L673.81,127.56 L674.64,126.89 L675.47,126.29 L676.3,124.95 L677.13,124 L677.96,123.18 L678.79,122.11 L679.62,120.63 L680.45,120.15 L681.28,119.81 L682.11,118.93 L682.94,117.64 L683.77,116.68 L684.6,115.91" fill="none" stroke="#7fa0dc" stroke-width="1.4" stroke-linejoin="round" stroke-linecap="round" />
<path d="M585.8,157.03 L586.71,157.38 L587.61,157.62 L588.52,157.85 L589.43,158.26 L590.33,158.48 L591.24,158.68 L592.14,159.15 L593.05,159.24 L593.96,159.32 L594.86,159.46 L595.77,159.76 L596.68,160.16 L597.58,160.51 L598.49,160.82 L599.4,161.17 L600.3,161.44 L601.21,161.54 L602.12,161.74 L603.02,161.77 L603.93,161.64 L604.83,161.73 L605.74,161.68 L606.65,161.61 L607.55,161.82 L608.46,161.76 L609.37,161.55 L610.27,161.46 L611.18,161.67 L612.09,161.42 L612.99,161.37 L613.9,161.28 L614.81,161.16 L615.71,161.05 L616.62,160.81 L617.52,160.64 L618.43,160.53 L619.34,160.41 L620.24,160.45 L621.15,160.53 L622.06,160.24 L622.96,160.26 L623.87,160.08 L624.78,160.02 L625.68,160.05 L626.59,160.11 L627.5,160.09 L628.4,159.84 L629.31,160.23 L630.21,160.26 L631.12,160.28 L632.03,160.57 L632.93,162.38 L633.84,164.58 L634.75,165.15 L635.65,165.27 L636.56,165.15 L637.47,165.28 L638.37,165.25 L639.28,165.01 L640.19,165.2 L641.09,165.07 L642,164.79 L642.9,164.81 L643.81,164.74 L644.72,164.78 L645.62,164.49 L646.53,164.6 L647.44,164.62 L648.34,164.56 L649.25,164.49 L650.16,164.51 L651.06,164.4 L651.97,164.24 L652.88,164 L653.78,164.07 L654.69,164.03 L655.59,163.88 L656.5,163.72 L657.41,163.65 L658.31,163.15 L659.22,163.18 L660.13,162.77 L661.03,162.83 L661.94,162.88 L662.85,162.93 L663.75,162.58 L664.66,162.42 L665.57,162.19 L666.47,161.72 L667.38,161.75 L668.28,161.57 L669.19,161.38 L670.1,161.05 L671,160.89 L671.91,160.7 L672.82,160.63 L673.72,160.34 L674.63,160.46 L675.54,159.92 L676.44,159.53 L677.35,159.24 L678.26,158.86 L679.16,158.82 L680.07,158.56 L680.97,158.07 L681.88,157.86 L682.79,157.75 L683.69,157.26 L684.6,157.07" fill="none" stroke="#e3a3cc" stroke-width="1.1" stroke-linejoin="round" stroke-linecap="round" />
<path d="M585.8,116.58 L586.57,117.74 L587.33,118.14 L588.1,118.48 L588.86,119.56 L589.63,120.59 L590.4,121.42 L591.16,122.25 L591.93,122.87 L592.69,123.42 L593.46,124 L594.22,124.77 L594.99,125.46 L595.76,126.47 L596.52,127.23 L597.29,127.48 L598.05,128.41 L598.82,129.02 L599.59,129.93 L600.35,130.8 L601.12,131.31 L601.88,131.28 L602.65,132.19 L603.42,132.39 L604.18,133.59 L604.95,133.92 L605.71,134.49 L606.48,135.57 L607.24,135.48 L608.01,136.15 L608.78,136.46 L609.54,137 L610.31,137.42 L611.07,138.22 L611.84,138.58 L612.61,139.12 L613.37,139.66 L614.14,139.51 L614.9,140.4 L615.67,140.61 L616.44,140.52 L617.2,140.9 L617.97,141.65 L618.73,142.22 L619.5,142.23 L620.27,142.59 L621.03,142.96 L621.8,143.48 L622.56,143.59 L623.33,144.06 L624.09,143.96 L624.86,144.07 L625.63,144.61 L626.39,145.01 L627.16,145.13 L627.92,145.46 L628.69,145.61 L629.46,145.91 L630.22,146.24 L630.99,146.31 L631.75,146.5 L632.52,146.36 L633.29,146.33 L634.05,146.02 L634.82,146.6 L635.58,146.56 L636.35,145.9 L637.11,143.98 L637.88,142.27 L638.65,140.69 L639.41,139.63 L640.18,139.76 L640.94,139.86 L641.71,139.18 L642.48,139.19 L643.24,139.45 L644.01,138.76 L644.77,138.91 L645.54,139.07 L646.31,139.15 L647.07,138.3 L647.84,137.87 L648.6,137.9 L649.37,138.1 L650.13,137.51 L650.9,137.28 L651.67,137 L652.43,137.37 L653.2,137.05 L653.96,137.11 L654.73,137.06 L655.5,137.08 L656.26,136.79 L657.03,136.5 L657.79,136.46 L658.56,136.15 L659.33,135.43 L660.09,135.12 L660.86,135.2 L661.62,134.9 L662.39,134.46 L663.16,134.22 L663.92,134.69 L664.69,133.86 L665.45,133.35 L666.22,132.84 L666.98,132.14 L667.75,131.9 L668.52,131.4 L669.28,130.75 L670.05,129.66 L670.81,129.48 L671.58,128.94 L672.35,128.13 L673.11,126.73 L673.88,126.38 L674.64,125.54 L675.41,124.99 L676.18,124.24 L676.94,123.38 L677.71,123.02 L678.47,122.2 L679.24,121.69 L680,120.48 L680.77,119.7 L681.54,119.33 L682.3,118.49 L683.07,117.42 L683.83,116.46 L684.6,115.67" fill="none" stroke="#0f47a1" stroke-width="1.7" stroke-linejoin="round" stroke-linecap="round" />
<path d="M585.8,157.35 L586.71,157.63 L587.61,157.62 L588.52,157.68 L589.43,158.06 L590.33,158.48 L591.24,158.71 L592.14,158.8 L593.05,159.09 L593.96,159.59 L594.86,159.63 L595.77,160.06 L596.68,160.33 L597.58,160.57 L598.49,160.83 L599.4,160.9 L600.3,161.08 L601.21,161.49 L602.12,161.52 L603.02,161.6 L603.93,161.6 L604.83,161.78 L605.74,162.08 L606.65,162.35 L607.55,162.48 L608.46,162.59 L609.37,162.7 L610.27,162.78 L611.18,162.95 L612.09,162.95 L612.99,163.15 L613.9,163.16 L614.81,163.04 L615.71,163.07 L616.62,163.26 L617.52,163.38 L618.43,163.41 L619.34,163.53 L620.24,163.75 L621.15,163.94 L622.06,164.13 L622.96,164.07 L623.87,164.23 L624.78,164.43 L625.68,164.5 L626.59,164.74 L627.5,164.64 L628.4,164.69 L629.31,164.77 L630.21,164.79 L631.12,164.9 L632.03,165.05 L632.93,165.13 L633.84,165.13 L634.75,165.12 L635.65,165.12 L636.56,164.44 L637.47,162 L638.37,161.14 L639.28,161.02 L640.19,160.82 L641.09,160.83 L642,160.76 L642.9,160.74 L643.81,160.68 L644.72,160.76 L645.62,160.99 L646.53,160.73 L647.44,160.9 L648.34,160.98 L649.25,160.98 L650.16,160.9 L651.06,161.23 L651.97,161.25 L652.88,161.38 L653.78,161.3 L654.69,161.22 L655.59,161.4 L656.5,161.44 L657.41,161.32 L658.31,161.26 L659.22,161.31 L660.13,161.15 L661.03,161.05 L661.94,161.07 L662.85,161.17 L663.75,161.17 L664.66,161.05 L665.57,161.08 L666.47,160.87 L667.38,160.67 L668.28,160.84 L669.19,160.52 L670.1,160.42 L671,160.27 L671.91,160.06 L672.82,159.88 L673.72,159.74 L674.63,159.55 L675.54,159.22 L676.44,159.02 L677.35,158.97 L678.26,158.76 L679.16,158.41 L680.07,158.18 L680.97,157.84 L681.88,157.52 L682.79,157.35 L683.69,157.41 L684.6,157.08" fill="none" stroke="#b5188f" stroke-width="1.4" stroke-linejoin="round" stroke-linecap="round" />
</g>
<rect x="585.8" y="102.6" width="98.7" height="73" fill="none" stroke="#595350" stroke-width="0.75"/>
<line x1="610.47" y1="175.6" x2="610.47" y2="171" stroke="#595350" stroke-width="0.75"/>
<line x1="635.15" y1="175.6" x2="635.15" y2="171" stroke="#595350" stroke-width="0.75"/>
<line x1="659.83" y1="175.6" x2="659.83" y2="171" stroke="#595350" stroke-width="0.75"/>
<line x1="585.8" y1="132.9" x2="590.4" y2="132.9" stroke="#595350" stroke-width="0.75"/>
<line x1="585.8" y1="163.5" x2="590.4" y2="163.5" stroke="#595350" stroke-width="0.75"/>
<line x1="610.2" y1="145.3" x2="660" y2="145.3" stroke="#231815" stroke-width="0.9" stroke-dasharray="1.1,0.95"/>
<line x1="631" y1="125.3" x2="626.7" y2="125.3" stroke="#9b9b9b" stroke-width="1.4"/>
<polygon points="620.5,125.3 626.7,122.5 626.7,128.1" fill="#9b9b9b"/>
<line x1="630" y1="123.1" x2="644" y2="123.1" stroke="#231815" stroke-width="1.2"/>
<polygon points="650,123.1 644,125.7 644,120.5" fill="#231815"/>
<text x="593" y="116.1" text-anchor="start" fill="#231815" style="font-size:10.2px;" >#1</text>
<text x="659.8" y="121.4" text-anchor="start" fill="#0f47a1" style="font-size:10.2px;" >50 K</text>
<text x="657.6" y="155.9" text-anchor="start" fill="#b5188f" style="font-size:10.2px;" >100 K</text>
<text x="581.9000000000001" y="110.6" text-anchor="end" fill="#231815" style="font-size:14.5px;" >1</text>
<text x="581.5" y="169.0" text-anchor="end" fill="#231815" style="font-size:14.5px;" >0</text>
<text transform="translate(565.9,167.4) rotate(-90)" fill="#231815" style="font-size:14px"><tspan x="-0.6" style="font-style:italic">MR</tspan><tspan x="19.6" dy="2.9" style="font-size:11px">45</tspan><tspan x="37.2" dy="-2.9" style="font-size:14.4px">(%)</tspan></text>
<text x="540.6" y="102.3" text-anchor="start" fill="#231815" style="font-size:14.3px;font-weight:bold;" >h</text>
<clipPath id="ck"><rect x="585.8" y="191.0" width="99.1" height="74.3"/></clipPath>
<g clip-path="url(#ck)">
<path d="M585.8,208.14 L586.71,209.74 L587.61,210.9 L588.52,212.19 L589.43,213.79 L590.33,215.54 L591.24,216.85 L592.14,217.88 L593.05,219.08 L593.96,220.41 L594.86,221.87 L595.77,223.03 L596.68,224.13 L597.58,225.27 L598.49,226.45 L599.4,227.39 L600.3,228.48 L601.21,229.53 L602.12,230.72 L603.02,231.42 L603.93,232.32 L604.83,232.78 L605.74,233.68 L606.65,234.33 L607.55,234.84 L608.46,235.49 L609.37,236.27 L610.27,236.73 L611.18,237.45 L612.09,238.14 L612.99,238.73 L613.9,239.24 L614.81,239.19 L615.71,239.65 L616.62,239.89 L617.52,240.5 L618.43,240.85 L619.34,241.23 L620.24,241.64 L621.15,241.83 L622.06,242.2 L622.96,242.41 L623.87,243.16 L624.78,243.24 L625.68,243.53 L626.59,243.51 L627.5,243.72 L628.4,244.09 L629.31,244.72 L630.21,245.17 L631.12,245.43 L632.03,245.51 L632.93,246.07 L633.84,245.88 L634.75,245.83 L635.65,246.02 L636.56,245.83 L637.47,245.94 L638.37,246.03 L639.28,245.77 L640.19,245.5 L641.09,245.01 L642,244.34 L642.9,243.3 L643.81,242.93 L644.72,242.82 L645.62,242.3 L646.53,242.08 L647.44,241.94 L648.34,241.91 L649.25,241.26 L650.16,240.91 L651.06,240.7 L651.97,240.46 L652.88,239.81 L653.78,239.89 L654.69,239.28 L655.59,239.13 L656.5,238.65 L657.41,238.31 L658.31,238.15 L659.22,237.66 L660.13,237.04 L661.03,236.24 L661.94,235.59 L662.85,234.82 L663.75,234.71 L664.66,233.68 L665.57,232.61 L666.47,232.44 L667.38,231.87 L668.28,230.86 L669.19,230.1 L670.1,228.93 L671,227.87 L671.91,226.98 L672.82,225.95 L673.72,224.69 L674.63,223.82 L675.54,222.61 L676.44,221.26 L677.35,219.71 L678.26,218.5 L679.16,217.09 L680.07,215.66 L680.97,214.32 L681.88,212.6 L682.79,211.11 L683.69,209.69 L684.6,208.15" fill="none" stroke="#0f47a1" stroke-width="2.0" stroke-linejoin="round" stroke-linecap="round" />
</g>
<rect x="585.8" y="191.0" width="98.7" height="73.6" fill="none" stroke="#595350" stroke-width="0.75"/>
<line x1="610.47" y1="264.6" x2="610.47" y2="259.8" stroke="#231815" stroke-width="1.0"/>
<line x1="635.15" y1="264.6" x2="635.15" y2="259.8" stroke="#231815" stroke-width="1.0"/>
<line x1="659.83" y1="264.6" x2="659.83" y2="259.8" stroke="#231815" stroke-width="1.0"/>
<line x1="585.8" y1="209.6" x2="590.4" y2="209.6" stroke="#595350" stroke-width="0.75"/>
<line x1="585.8" y1="227.9" x2="590.4" y2="227.9" stroke="#595350" stroke-width="0.75"/>
<line x1="585.8" y1="246.1" x2="590.4" y2="246.1" stroke="#595350" stroke-width="0.75"/>
<text x="592.8" y="206.2" text-anchor="start" fill="#231815" style="font-size:10.2px;" >#2</text>
<text x="610" y="235.1" text-anchor="start" fill="#0f47a1" style="font-size:10.2px;" >×10</text>
<text x="659.8" y="251.8" text-anchor="start" fill="#0f47a1" style="font-size:10.2px;" >50 K</text>
<text x="581.5" y="214.7" text-anchor="end" fill="#231815" style="font-size:14.5px;" >4</text>
<text x="581.5" y="251.3" text-anchor="end" fill="#231815" style="font-size:14.5px;" >0</text>
<text transform="translate(565.9,255.9) rotate(-90)" fill="#231815" style="font-size:14px"><tspan x="-0.6" style="font-style:italic">MR</tspan><tspan x="19.6" dy="2.9" style="font-size:11px">45</tspan><tspan x="37.2" dy="-2.9" style="font-size:14.4px">(%)</tspan></text>
<text x="540.6" y="191.0" text-anchor="start" fill="#231815" style="font-size:14.3px;font-weight:bold;" >k</text>
<clipPath id="cn"><rect x="585.8" y="279.6" width="99.1" height="74.4"/></clipPath>
<g clip-path="url(#cn)">
<path d="M585.8,284.4 L586.63,285.53 L587.46,286.44 L588.29,287.92 L589.12,289.12 L589.95,290.32 L590.78,291.46 L591.61,292.89 L592.44,294.01 L593.27,295.18 L594.1,296 L594.93,296.92 L595.76,297.8 L596.59,298.94 L597.42,299.51 L598.25,301.23 L599.08,302.27 L599.91,303.27 L600.74,304.39 L601.57,305.13 L602.41,306.04 L603.24,306.98 L604.07,307.3 L604.9,308.51 L605.73,309.09 L606.56,309.8 L607.39,310.11 L608.22,310.64 L609.05,311.69 L609.88,311.99 L610.71,312.43 L611.54,313.07 L612.37,313.81 L613.2,313.56 L614.03,314.46 L614.86,314.83 L615.69,315.32 L616.52,315.32 L617.35,315.75 L618.18,316.39 L619.01,316.49 L619.84,316.56 L620.67,316.77 L621.5,316.99 L622.33,317.51 L623.16,317.76 L623.99,317.85 L624.82,318.27 L625.65,318.18 L626.48,318.15 L627.31,319.07 L628.14,318.96 L628.97,319.5 L629.8,319.51 L630.63,319.61 L631.46,319.91 L632.29,321.26 L633.12,323.22 L633.95,323.63 L634.78,323.67 L635.62,323.8 L636.45,324.07 L637.28,323.46 L638.11,323.13 L638.94,323.22 L639.77,323.1 L640.6,323.06 L641.43,322.53 L642.26,322.42 L643.09,322.11 L643.92,321.48 L644.75,321.48 L645.58,320.93 L646.41,320.97 L647.24,320.64 L648.07,320.38 L648.9,320.6 L649.73,320.4 L650.56,319.87 L651.39,319.39 L652.22,318.67 L653.05,318.5 L653.88,318.02 L654.71,317.2 L655.54,316.33 L656.37,315.96 L657.2,315.43 L658.03,315.05 L658.86,314.12 L659.69,313.31 L660.52,312.81 L661.35,312.08 L662.18,311.46 L663.01,310.74 L663.84,309.47 L664.67,308.04 L665.5,307.35 L666.33,306.34 L667.16,305.54 L667.99,304 L668.83,303.29 L669.66,302.47 L670.49,301.41 L671.32,300.59 L672.15,299.55 L672.98,298.52 L673.81,297.69 L674.64,296.73 L675.47,295.7 L676.3,294.47 L677.13,293.29 L677.96,292.28 L678.79,291.22 L679.62,289.97 L680.45,289.09 L681.28,288.27 L682.11,287.09 L682.94,285.86 L683.77,285.11 L684.6,283.95" fill="none" stroke="#7fa0dc" stroke-width="1.3" stroke-linejoin="round" stroke-linecap="round" />
<path d="M585.8,333.59 L586.71,333.85 L587.61,333.95 L588.52,334.54 L589.43,334.42 L590.33,334.74 L591.24,335.16 L592.14,335.47 L593.05,335.75 L593.96,335.76 L594.86,336.34 L595.77,336.35 L596.68,336.59 L597.58,336.84 L598.49,337.08 L599.4,337.24 L600.3,337.75 L601.21,337.89 L602.12,338.21 L603.02,338.06 L603.93,338.39 L604.83,338.49 L605.74,338.7 L606.65,338.82 L607.55,338.97 L608.46,339.01 L609.37,339.09 L610.27,339.18 L611.18,339.26 L612.09,339.3 L612.99,339.25 L613.9,339.36 L614.81,339.19 L615.71,339.54 L616.62,339.51 L617.52,339.56 L618.43,339.3 L619.34,338.96 L620.24,338.71 L621.15,338.66 L622.06,338.62 L622.96,338.6 L623.87,338.54 L624.78,338.6 L625.68,338.11 L626.59,338.42 L627.5,338.2 L628.4,338.12 L629.31,337.73 L630.21,337.82 L631.12,337.58 L632.03,337.75 L632.93,338.5 L633.84,340.85 L634.75,340.97 L635.65,341.05 L636.56,341.1 L637.47,341.31 L638.37,341.28 L639.28,341.27 L640.19,341.57 L641.09,341.34 L642,341.04 L642.9,340.67 L643.81,340.45 L644.72,340.73 L645.62,340.97 L646.53,340.79 L647.44,340.66 L648.34,340.73 L649.25,340.8 L650.16,340.94 L651.06,340.82 L651.97,340.65 L652.88,340.73 L653.78,340.49 L654.69,340.24 L655.59,340.12 L656.5,340.12 L657.41,340.04 L658.31,340 L659.22,339.91 L660.13,340.15 L661.03,339.89 L661.94,339.28 L662.85,338.99 L663.75,339 L664.66,338.75 L665.57,338.99 L666.47,338.59 L667.38,338.3 L668.28,338.11 L669.19,337.84 L670.1,337.7 L671,337.38 L671.91,337.17 L672.82,336.78 L673.72,336.14 L674.63,336.14 L675.54,336.18 L676.44,335.65 L677.35,335.29 L678.26,335.17 L679.16,334.75 L680.07,334.49 L680.97,334.15 L681.88,333.96 L682.79,333.6 L683.69,333.61 L684.6,333.17" fill="none" stroke="#e3a3cc" stroke-width="1.1" stroke-linejoin="round" stroke-linecap="round" />
<path d="M585.8,284.02 L586.57,285.1 L587.33,286.4 L588.1,287.36 L588.86,288.28 L589.63,289.17 L590.4,290.65 L591.16,291.72 L591.93,292.67 L592.69,293.58 L593.46,294.21 L594.22,295.59 L594.99,296.56 L595.76,297.73 L596.52,299.14 L597.29,299.93 L598.05,300.85 L598.82,302.01 L599.59,302.8 L600.35,303.71 L601.12,304.31 L601.88,305.09 L602.65,305.74 L603.42,307.05 L604.18,308.17 L604.95,308.75 L605.71,309.5 L606.48,310.19 L607.24,311.56 L608.01,312.23 L608.78,312.64 L609.54,313.34 L610.31,314.12 L611.07,314.26 L611.84,314.94 L612.61,315.5 L613.37,315.88 L614.14,316.46 L614.9,317.05 L615.67,317.3 L616.44,317.55 L617.2,318.18 L617.97,318.56 L618.73,319.04 L619.5,319.86 L620.27,320.16 L621.03,320.45 L621.8,320.54 L622.56,321.16 L623.33,321.66 L624.09,322.12 L624.86,322.49 L625.63,322.82 L626.39,322.98 L627.16,323.13 L627.92,323.37 L628.69,323.29 L629.46,323.24 L630.22,323.26 L630.99,323.56 L631.75,323.34 L632.52,323.53 L633.29,323.68 L634.05,323.85 L634.82,323.6 L635.58,323.65 L636.35,323.46 L637.11,322.48 L637.88,320.69 L638.65,320.14 L639.41,319.76 L640.18,319.74 L640.94,319.62 L641.71,320.19 L642.48,320 L643.24,319.76 L644.01,319.33 L644.77,319.3 L645.54,319.24 L646.31,319.01 L647.07,318.46 L647.84,318.12 L648.6,317.78 L649.37,317.73 L650.13,317.31 L650.9,317.09 L651.67,317.2 L652.43,316.26 L653.2,315.93 L653.96,315.61 L654.73,314.91 L655.5,314.88 L656.26,314.35 L657.03,313.97 L657.79,313.57 L658.56,313.27 L659.33,312.39 L660.09,311.65 L660.86,310.83 L661.62,310.08 L662.39,310.03 L663.16,309.15 L663.92,308.06 L664.69,307.67 L665.45,307.31 L666.22,306.13 L666.98,305.34 L667.75,304.23 L668.52,303.11 L669.28,302.52 L670.05,301.57 L670.81,300.63 L671.58,299.94 L672.35,299.19 L673.11,298.19 L673.88,297.52 L674.64,296.27 L675.41,295.21 L676.18,294.46 L676.94,293.9 L677.71,293.11 L678.47,292.01 L679.24,290.83 L680,289.46 L680.77,288.93 L681.54,287.87 L682.3,287.42 L683.07,286.24 L683.83,284.75 L684.6,284.22" fill="none" stroke="#0f47a1" stroke-width="1.7" stroke-linejoin="round" stroke-linecap="round" />
<path d="M585.8,333.3 L586.71,333.62 L587.61,334.13 L588.52,334.07 L589.43,334.55 L590.33,334.72 L591.24,335.19 L592.14,335.36 L593.05,335.6 L593.96,335.94 L594.86,336.09 L595.77,336.37 L596.68,336.61 L597.58,337.08 L598.49,337.27 L599.4,337.18 L600.3,337.53 L601.21,337.79 L602.12,337.97 L603.02,338.35 L603.93,338.58 L604.83,338.41 L605.74,338.81 L606.65,338.83 L607.55,338.92 L608.46,339.02 L609.37,339.2 L610.27,339.49 L611.18,339.41 L612.09,339.59 L612.99,339.65 L613.9,339.81 L614.81,339.91 L615.71,340.16 L616.62,340.37 L617.52,340.26 L618.43,340.44 L619.34,340.29 L620.24,340.51 L621.15,340.73 L622.06,340.73 L622.96,341.13 L623.87,341.07 L624.78,340.86 L625.68,340.93 L626.59,340.82 L627.5,340.95 L628.4,340.92 L629.31,340.93 L630.21,340.55 L631.12,340.63 L632.03,340.89 L632.93,340.98 L633.84,340.99 L634.75,340.85 L635.65,340.81 L636.56,340.65 L637.47,338.68 L638.37,337.9 L639.28,338.11 L640.19,338.02 L641.09,338.18 L642,338.37 L642.9,338.34 L643.81,338.1 L644.72,338.26 L645.62,338.47 L646.53,338.21 L647.44,338.29 L648.34,338.41 L649.25,338.94 L650.16,339.11 L651.06,339.07 L651.97,339.26 L652.88,339.3 L653.78,339.06 L654.69,339.12 L655.59,339.34 L656.5,339.26 L657.41,339.6 L658.31,339.32 L659.22,339.16 L660.13,339.07 L661.03,339.03 L661.94,338.95 L662.85,339.06 L663.75,339.17 L664.66,338.81 L665.57,338.37 L666.47,338.23 L667.38,338.15 L668.28,338.25 L669.19,338.05 L670.1,337.75 L671,337.88 L671.91,337.23 L672.82,336.77 L673.72,336.78 L674.63,336.52 L675.54,336.15 L676.44,335.62 L677.35,335.43 L678.26,335.17 L679.16,334.74 L680.07,334.48 L680.97,333.95 L681.88,333.92 L682.79,333.42 L683.69,333.33 L684.6,332.86" fill="none" stroke="#b5188f" stroke-width="1.4" stroke-linejoin="round" stroke-linecap="round" />
</g>
<rect x="585.8" y="279.6" width="98.7" height="73.7" fill="none" stroke="#595350" stroke-width="0.75"/>
<line x1="610.47" y1="353.3" x2="610.47" y2="348.7" stroke="#595350" stroke-width="0.75"/>
<line x1="635.15" y1="353.3" x2="635.15" y2="348.7" stroke="#595350" stroke-width="0.75"/>
<line x1="659.83" y1="353.3" x2="659.83" y2="348.7" stroke="#595350" stroke-width="0.75"/>
<line x1="585.8" y1="309.9" x2="590.4" y2="309.9" stroke="#595350" stroke-width="0.75"/>
<line x1="585.8" y1="341.3" x2="590.4" y2="341.3" stroke="#595350" stroke-width="0.75"/>
<line x1="610.2" y1="322.9" x2="660" y2="322.9" stroke="#747474" stroke-width="1.3" stroke-dasharray="1.2,0.9"/>
<line x1="639.5" y1="306.9" x2="626.7" y2="306.9" stroke="#a6a6a6" stroke-width="1.5"/>
<polygon points="620.5,306.9 626.7,304 626.7,309.8" fill="#a6a6a6"/>
<line x1="630" y1="304.1" x2="644" y2="304.1" stroke="#231815" stroke-width="1.2"/>
<polygon points="650,304.1 644,306.7 644,301.5" fill="#231815"/>
<text x="592.8" y="295.2" text-anchor="start" fill="#231815" style="font-size:10.2px;" >#3</text>
<text x="659.8" y="292.0" text-anchor="start" fill="#0f47a1" style="font-size:10.2px;" >50 K</text>
<text x="656.6" y="333.1" text-anchor="start" fill="#b5188f" style="font-size:10.2px;" >100 K</text>
<text x="581.9000000000001" y="284.7" text-anchor="end" fill="#231815" style="font-size:14.5px;" >1</text>
<text x="581.5" y="347.0" text-anchor="end" fill="#231815" style="font-size:14.5px;" >0</text>
<text transform="translate(565.9,345.4) rotate(-90)" fill="#231815" style="font-size:14px"><tspan x="-0.6" style="font-style:italic">MR</tspan><tspan x="19.6" dy="2.9" style="font-size:11px">45</tspan><tspan x="37.2" dy="-2.9" style="font-size:14.4px">(%)</tspan></text>
<text x="540.6" y="279.7" text-anchor="start" fill="#231815" style="font-size:14.3px;font-weight:bold;" >n</text>
<text x="610.77" y="368.5" text-anchor="middle" fill="#231815" style="font-size:14.5px;" >-2</text>
<text x="635.15" y="368.5" text-anchor="middle" fill="#231815" style="font-size:14.5px;" >0</text>
<text x="659.83" y="368.5" text-anchor="middle" fill="#231815" style="font-size:14.5px;" >2</text>
<text x="636" y="382.1" text-anchor="middle" fill="#231815" style="font-size:13.6px"><tspan style="font-style:italic">B</tspan> (T)</text>
</svg>
</body></html>
